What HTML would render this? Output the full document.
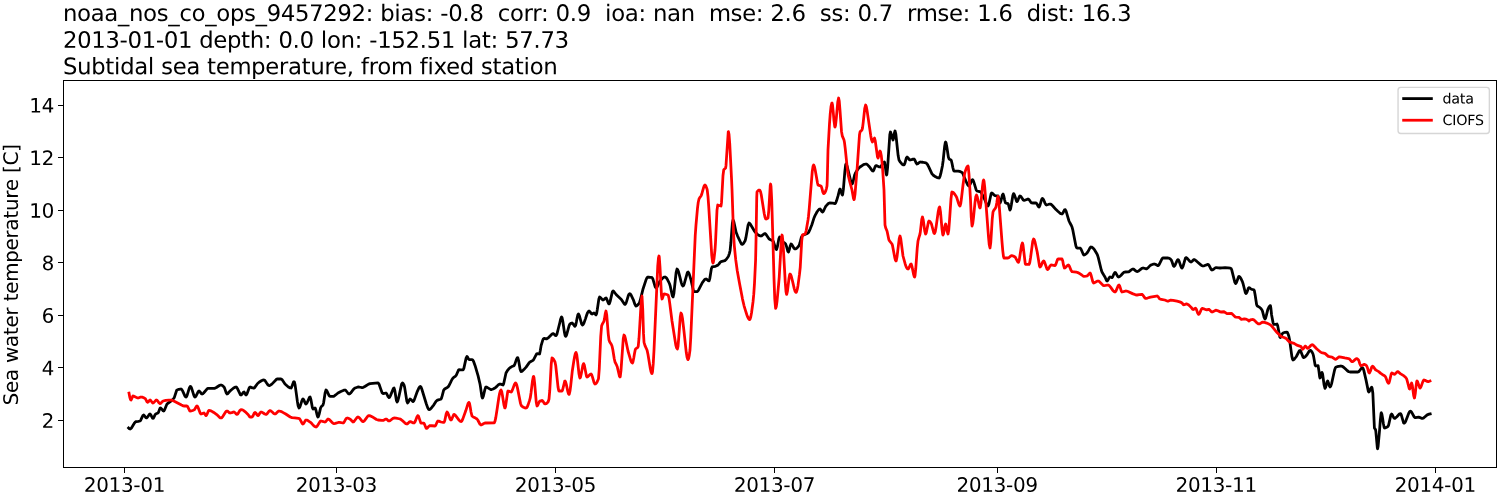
<!DOCTYPE html>
<html><head><meta charset="utf-8"><title>chart</title>
<style>html,body{margin:0;padding:0;background:#fff;width:1500px;height:500px;overflow:hidden}body{position:relative}svg{display:block;font-family:"Liberation Sans",sans-serif}</style>
</head><body>
<svg width="1500" height="500" viewBox="0 0 1080 360" version="1.1" style="position:absolute;left:0;top:0">
<defs>
<style type="text/css">*{stroke-linejoin: round; stroke-linecap: butt}</style>
</defs>
<g id="figure_1">
<g id="patch_1">
<path d="M 0 360
L 1080 360
L 1080 0
L 0 0
z
" style="fill: #ffffff"/>
</g>
<g id="axes_1">
<g id="patch_2">
<path d="M 45.9 336.456
L 1077.336 336.456
L 1077.336 57.888
L 45.9 57.888
z
" style="fill: #ffffff"/>
</g>
<g id="matplotlib.axis_1">
<g id="xtick_1">
<g id="line2d_1">
<defs>
<path id="mf0cb0c5681" d="M 0 0
L 0 3.5
" style="stroke: #000000; stroke-opacity: 0; stroke-width: 0.8"/>
</defs>
<g>
</g>
</g>
<g id="text_1">
<!-- 2013-01 -->
<g transform="translate(60.392 354.094) scale(0.14 -0.14)">
<defs>
<path id="DejaVuSans-32" d="M 1228 531
L 3431 531
L 3431 0
L 469 0
L 469 531
Q 828 903 1448 1529
Q 2069 2156 2228 2338
Q 2531 2678 2651 2914
Q 2772 3150 2772 3378
Q 2772 3750 2511 3984
Q 2250 4219 1831 4219
Q 1534 4219 1204 4116
Q 875 4013 500 3803
L 500 4441
Q 881 4594 1212 4672
Q 1544 4750 1819 4750
Q 2544 4750 2975 4387
Q 3406 4025 3406 3419
Q 3406 3131 3298 2873
Q 3191 2616 2906 2266
Q 2828 2175 2409 1742
Q 1991 1309 1228 531
z
" transform="scale(0.016)"/>
<path id="DejaVuSans-30" d="M 2034 4250
Q 1547 4250 1301 3770
Q 1056 3291 1056 2328
Q 1056 1369 1301 889
Q 1547 409 2034 409
Q 2525 409 2770 889
Q 3016 1369 3016 2328
Q 3016 3291 2770 3770
Q 2525 4250 2034 4250
z
M 2034 4750
Q 2819 4750 3233 4129
Q 3647 3509 3647 2328
Q 3647 1150 3233 529
Q 2819 -91 2034 -91
Q 1250 -91 836 529
Q 422 1150 422 2328
Q 422 3509 836 4129
Q 1250 4750 2034 4750
z
" transform="scale(0.016)"/>
<path id="DejaVuSans-31" d="M 794 531
L 1825 531
L 1825 4091
L 703 3866
L 703 4441
L 1819 4666
L 2450 4666
L 2450 531
L 3481 531
L 3481 0
L 794 0
L 794 531
z
" transform="scale(0.016)"/>
<path id="DejaVuSans-33" d="M 2597 2516
Q 3050 2419 3304 2112
Q 3559 1806 3559 1356
Q 3559 666 3084 287
Q 2609 -91 1734 -91
Q 1441 -91 1130 -33
Q 819 25 488 141
L 488 750
Q 750 597 1062 519
Q 1375 441 1716 441
Q 2309 441 2620 675
Q 2931 909 2931 1356
Q 2931 1769 2642 2001
Q 2353 2234 1838 2234
L 1294 2234
L 1294 2753
L 1863 2753
Q 2328 2753 2575 2939
Q 2822 3125 2822 3475
Q 2822 3834 2567 4026
Q 2313 4219 1838 4219
Q 1578 4219 1281 4162
Q 984 4106 628 3988
L 628 4550
Q 988 4650 1302 4700
Q 1616 4750 1894 4750
Q 2613 4750 3031 4423
Q 3450 4097 3450 3541
Q 3450 3153 3228 2886
Q 3006 2619 2597 2516
z
" transform="scale(0.016)"/>
<path id="DejaVuSans-2d" d="M 313 2009
L 1997 2009
L 1997 1497
L 313 1497
L 313 2009
z
" transform="scale(0.016)"/>
</defs>
<use href="#DejaVuSans-32"/>
<use href="#DejaVuSans-30" transform="translate(63.623 0)"/>
<use href="#DejaVuSans-31" transform="translate(127.246 0)"/>
<use href="#DejaVuSans-33" transform="translate(190.869 0)"/>
<use href="#DejaVuSans-2d" transform="translate(254.492 0)"/>
<use href="#DejaVuSans-30" transform="translate(290.576 0)"/>
<use href="#DejaVuSans-31" transform="translate(354.199 0)"/>
</g>
</g>
</g>
<g id="xtick_2">
<g id="line2d_2">
<g>
</g>
</g>
<g id="text_2">
<!-- 2013-03 -->
<g transform="translate(212.948 354.094) scale(0.14 -0.14)">
<use href="#DejaVuSans-32"/>
<use href="#DejaVuSans-30" transform="translate(63.623 0)"/>
<use href="#DejaVuSans-31" transform="translate(127.246 0)"/>
<use href="#DejaVuSans-33" transform="translate(190.869 0)"/>
<use href="#DejaVuSans-2d" transform="translate(254.492 0)"/>
<use href="#DejaVuSans-30" transform="translate(290.576 0)"/>
<use href="#DejaVuSans-33" transform="translate(354.199 0)"/>
</g>
</g>
</g>
<g id="xtick_3">
<g id="line2d_3">
<g>
</g>
</g>
<g id="text_3">
<!-- 2013-05 -->
<g transform="translate(370.675 354.094) scale(0.14 -0.14)">
<defs>
<path id="DejaVuSans-35" d="M 691 4666
L 3169 4666
L 3169 4134
L 1269 4134
L 1269 2991
Q 1406 3038 1543 3061
Q 1681 3084 1819 3084
Q 2600 3084 3056 2656
Q 3513 2228 3513 1497
Q 3513 744 3044 326
Q 2575 -91 1722 -91
Q 1428 -91 1123 -41
Q 819 9 494 109
L 494 744
Q 775 591 1075 516
Q 1375 441 1709 441
Q 2250 441 2565 725
Q 2881 1009 2881 1497
Q 2881 1984 2565 2268
Q 2250 2553 1709 2553
Q 1456 2553 1204 2497
Q 953 2441 691 2322
L 691 4666
z
" transform="scale(0.016)"/>
</defs>
<use href="#DejaVuSans-32"/>
<use href="#DejaVuSans-30" transform="translate(63.623 0)"/>
<use href="#DejaVuSans-31" transform="translate(127.246 0)"/>
<use href="#DejaVuSans-33" transform="translate(190.869 0)"/>
<use href="#DejaVuSans-2d" transform="translate(254.492 0)"/>
<use href="#DejaVuSans-30" transform="translate(290.576 0)"/>
<use href="#DejaVuSans-35" transform="translate(354.199 0)"/>
</g>
</g>
</g>
<g id="xtick_4">
<g id="line2d_4">
<g>
</g>
</g>
<g id="text_4">
<!-- 2013-07 -->
<g transform="translate(528.402 354.094) scale(0.14 -0.14)">
<defs>
<path id="DejaVuSans-37" d="M 525 4666
L 3525 4666
L 3525 4397
L 1831 0
L 1172 0
L 2766 4134
L 525 4134
L 525 4666
z
" transform="scale(0.016)"/>
</defs>
<use href="#DejaVuSans-32"/>
<use href="#DejaVuSans-30" transform="translate(63.623 0)"/>
<use href="#DejaVuSans-31" transform="translate(127.246 0)"/>
<use href="#DejaVuSans-33" transform="translate(190.869 0)"/>
<use href="#DejaVuSans-2d" transform="translate(254.492 0)"/>
<use href="#DejaVuSans-30" transform="translate(290.576 0)"/>
<use href="#DejaVuSans-37" transform="translate(354.199 0)"/>
</g>
</g>
</g>
<g id="xtick_5">
<g id="line2d_5">
<g>
</g>
</g>
<g id="text_5">
<!-- 2013-09 -->
<g transform="translate(688.714 354.094) scale(0.14 -0.14)">
<defs>
<path id="DejaVuSans-39" d="M 703 97
L 703 672
Q 941 559 1184 500
Q 1428 441 1663 441
Q 2288 441 2617 861
Q 2947 1281 2994 2138
Q 2813 1869 2534 1725
Q 2256 1581 1919 1581
Q 1219 1581 811 2004
Q 403 2428 403 3163
Q 403 3881 828 4315
Q 1253 4750 1959 4750
Q 2769 4750 3195 4129
Q 3622 3509 3622 2328
Q 3622 1225 3098 567
Q 2575 -91 1691 -91
Q 1453 -91 1209 -44
Q 966 3 703 97
z
M 1959 2075
Q 2384 2075 2632 2365
Q 2881 2656 2881 3163
Q 2881 3666 2632 3958
Q 2384 4250 1959 4250
Q 1534 4250 1286 3958
Q 1038 3666 1038 3163
Q 1038 2656 1286 2365
Q 1534 2075 1959 2075
z
" transform="scale(0.016)"/>
</defs>
<use href="#DejaVuSans-32"/>
<use href="#DejaVuSans-30" transform="translate(63.623 0)"/>
<use href="#DejaVuSans-31" transform="translate(127.246 0)"/>
<use href="#DejaVuSans-33" transform="translate(190.869 0)"/>
<use href="#DejaVuSans-2d" transform="translate(254.492 0)"/>
<use href="#DejaVuSans-30" transform="translate(290.576 0)"/>
<use href="#DejaVuSans-39" transform="translate(354.199 0)"/>
</g>
</g>
</g>
<g id="xtick_6">
<g id="line2d_6">
<g>
</g>
</g>
<g id="text_6">
<!-- 2013-11 -->
<g transform="translate(846.441 354.094) scale(0.14 -0.14)">
<use href="#DejaVuSans-32"/>
<use href="#DejaVuSans-30" transform="translate(63.623 0)"/>
<use href="#DejaVuSans-31" transform="translate(127.246 0)"/>
<use href="#DejaVuSans-33" transform="translate(190.869 0)"/>
<use href="#DejaVuSans-2d" transform="translate(254.492 0)"/>
<use href="#DejaVuSans-31" transform="translate(290.576 0)"/>
<use href="#DejaVuSans-31" transform="translate(354.199 0)"/>
</g>
</g>
</g>
<g id="xtick_7">
<g id="line2d_7">
<g>
</g>
</g>
<g id="text_7">
<!-- 2014-01 -->
<g transform="translate(1004.168 354.094) scale(0.14 -0.14)">
<defs>
<path id="DejaVuSans-34" d="M 2419 4116
L 825 1625
L 2419 1625
L 2419 4116
z
M 2253 4666
L 3047 4666
L 3047 1625
L 3713 1625
L 3713 1100
L 3047 1100
L 3047 0
L 2419 0
L 2419 1100
L 313 1100
L 313 1709
L 2253 4666
z
" transform="scale(0.016)"/>
</defs>
<use href="#DejaVuSans-32"/>
<use href="#DejaVuSans-30" transform="translate(63.623 0)"/>
<use href="#DejaVuSans-31" transform="translate(127.246 0)"/>
<use href="#DejaVuSans-34" transform="translate(190.869 0)"/>
<use href="#DejaVuSans-2d" transform="translate(254.492 0)"/>
<use href="#DejaVuSans-30" transform="translate(290.576 0)"/>
<use href="#DejaVuSans-31" transform="translate(354.199 0)"/>
</g>
</g>
</g>
</g>
<g id="matplotlib.axis_2">
<g id="ytick_1">
<g id="line2d_8">
<defs>
<path id="m7ebbb2c059" d="M 0 0
L -3.5 0
" style="stroke: #000000; stroke-opacity: 0; stroke-width: 0.8"/>
</defs>
<g>
</g>
</g>
<g id="text_8">
<!-- 2 -->
<g transform="translate(29.992 308.007) scale(0.14 -0.14)">
<use href="#DejaVuSans-32"/>
</g>
</g>
</g>
<g id="ytick_2">
<g id="line2d_9">
<g>
</g>
</g>
<g id="text_9">
<!-- 4 -->
<g transform="translate(29.992 270.183) scale(0.14 -0.14)">
<use href="#DejaVuSans-34"/>
</g>
</g>
</g>
<g id="ytick_3">
<g id="line2d_10">
<g>
</g>
</g>
<g id="text_10">
<!-- 6 -->
<g transform="translate(29.992 232.359) scale(0.14 -0.14)">
<defs>
<path id="DejaVuSans-36" d="M 2113 2584
Q 1688 2584 1439 2293
Q 1191 2003 1191 1497
Q 1191 994 1439 701
Q 1688 409 2113 409
Q 2538 409 2786 701
Q 3034 994 3034 1497
Q 3034 2003 2786 2293
Q 2538 2584 2113 2584
z
M 3366 4563
L 3366 3988
Q 3128 4100 2886 4159
Q 2644 4219 2406 4219
Q 1781 4219 1451 3797
Q 1122 3375 1075 2522
Q 1259 2794 1537 2939
Q 1816 3084 2150 3084
Q 2853 3084 3261 2657
Q 3669 2231 3669 1497
Q 3669 778 3244 343
Q 2819 -91 2113 -91
Q 1303 -91 875 529
Q 447 1150 447 2328
Q 447 3434 972 4092
Q 1497 4750 2381 4750
Q 2619 4750 2861 4703
Q 3103 4656 3366 4563
z
" transform="scale(0.016)"/>
</defs>
<use href="#DejaVuSans-36"/>
</g>
</g>
</g>
<g id="ytick_4">
<g id="line2d_11">
<g>
</g>
</g>
<g id="text_11">
<!-- 8 -->
<g transform="translate(29.992 194.535) scale(0.14 -0.14)">
<defs>
<path id="DejaVuSans-38" d="M 2034 2216
Q 1584 2216 1326 1975
Q 1069 1734 1069 1313
Q 1069 891 1326 650
Q 1584 409 2034 409
Q 2484 409 2743 651
Q 3003 894 3003 1313
Q 3003 1734 2745 1975
Q 2488 2216 2034 2216
z
M 1403 2484
Q 997 2584 770 2862
Q 544 3141 544 3541
Q 544 4100 942 4425
Q 1341 4750 2034 4750
Q 2731 4750 3128 4425
Q 3525 4100 3525 3541
Q 3525 3141 3298 2862
Q 3072 2584 2669 2484
Q 3125 2378 3379 2068
Q 3634 1759 3634 1313
Q 3634 634 3220 271
Q 2806 -91 2034 -91
Q 1263 -91 848 271
Q 434 634 434 1313
Q 434 1759 690 2068
Q 947 2378 1403 2484
z
M 1172 3481
Q 1172 3119 1398 2916
Q 1625 2713 2034 2713
Q 2441 2713 2670 2916
Q 2900 3119 2900 3481
Q 2900 3844 2670 4047
Q 2441 4250 2034 4250
Q 1625 4250 1398 4047
Q 1172 3844 1172 3481
z
" transform="scale(0.016)"/>
</defs>
<use href="#DejaVuSans-38"/>
</g>
</g>
</g>
<g id="ytick_5">
<g id="line2d_12">
<g>
</g>
</g>
<g id="text_12">
<!-- 10 -->
<g transform="translate(21.085 156.711) scale(0.14 -0.14)">
<use href="#DejaVuSans-31"/>
<use href="#DejaVuSans-30" transform="translate(63.623 0)"/>
</g>
</g>
</g>
<g id="ytick_6">
<g id="line2d_13">
<g>
</g>
</g>
<g id="text_13">
<!-- 12 -->
<g transform="translate(21.085 118.887) scale(0.14 -0.14)">
<use href="#DejaVuSans-31"/>
<use href="#DejaVuSans-32" transform="translate(63.623 0)"/>
</g>
</g>
</g>
<g id="ytick_7">
<g id="line2d_14">
<g>
</g>
</g>
<g id="text_14">
<!-- 14 -->
<g transform="translate(21.085 81.063) scale(0.14 -0.14)">
<use href="#DejaVuSans-31"/>
<use href="#DejaVuSans-34" transform="translate(63.623 0)"/>
</g>
</g>
</g>
<g id="text_15">
<!-- Sea water temperature [C] -->
<g transform="translate(12.873 291.877) rotate(-90) scale(0.14 -0.14)">
<defs>
<path id="DejaVuSans-53" d="M 3425 4513
L 3425 3897
Q 3066 4069 2747 4153
Q 2428 4238 2131 4238
Q 1616 4238 1336 4038
Q 1056 3838 1056 3469
Q 1056 3159 1242 3001
Q 1428 2844 1947 2747
L 2328 2669
Q 3034 2534 3370 2195
Q 3706 1856 3706 1288
Q 3706 609 3251 259
Q 2797 -91 1919 -91
Q 1588 -91 1214 -16
Q 841 59 441 206
L 441 856
Q 825 641 1194 531
Q 1563 422 1919 422
Q 2459 422 2753 634
Q 3047 847 3047 1241
Q 3047 1584 2836 1778
Q 2625 1972 2144 2069
L 1759 2144
Q 1053 2284 737 2584
Q 422 2884 422 3419
Q 422 4038 858 4394
Q 1294 4750 2059 4750
Q 2388 4750 2728 4690
Q 3069 4631 3425 4513
z
" transform="scale(0.016)"/>
<path id="DejaVuSans-65" d="M 3597 1894
L 3597 1613
L 953 1613
Q 991 1019 1311 708
Q 1631 397 2203 397
Q 2534 397 2845 478
Q 3156 559 3463 722
L 3463 178
Q 3153 47 2828 -22
Q 2503 -91 2169 -91
Q 1331 -91 842 396
Q 353 884 353 1716
Q 353 2575 817 3079
Q 1281 3584 2069 3584
Q 2775 3584 3186 3129
Q 3597 2675 3597 1894
z
M 3022 2063
Q 3016 2534 2758 2815
Q 2500 3097 2075 3097
Q 1594 3097 1305 2825
Q 1016 2553 972 2059
L 3022 2063
z
" transform="scale(0.016)"/>
<path id="DejaVuSans-61" d="M 2194 1759
Q 1497 1759 1228 1600
Q 959 1441 959 1056
Q 959 750 1161 570
Q 1363 391 1709 391
Q 2188 391 2477 730
Q 2766 1069 2766 1631
L 2766 1759
L 2194 1759
z
M 3341 1997
L 3341 0
L 2766 0
L 2766 531
Q 2569 213 2275 61
Q 1981 -91 1556 -91
Q 1019 -91 701 211
Q 384 513 384 1019
Q 384 1609 779 1909
Q 1175 2209 1959 2209
L 2766 2209
L 2766 2266
Q 2766 2663 2505 2880
Q 2244 3097 1772 3097
Q 1472 3097 1187 3025
Q 903 2953 641 2809
L 641 3341
Q 956 3463 1253 3523
Q 1550 3584 1831 3584
Q 2591 3584 2966 3190
Q 3341 2797 3341 1997
z
" transform="scale(0.016)"/>
<path id="DejaVuSans-20" transform="scale(0.016)"/>
<path id="DejaVuSans-77" d="M 269 3500
L 844 3500
L 1563 769
L 2278 3500
L 2956 3500
L 3675 769
L 4391 3500
L 4966 3500
L 4050 0
L 3372 0
L 2619 2869
L 1863 0
L 1184 0
L 269 3500
z
" transform="scale(0.016)"/>
<path id="DejaVuSans-74" d="M 1172 4494
L 1172 3500
L 2356 3500
L 2356 3053
L 1172 3053
L 1172 1153
Q 1172 725 1289 603
Q 1406 481 1766 481
L 2356 481
L 2356 0
L 1766 0
Q 1100 0 847 248
Q 594 497 594 1153
L 594 3053
L 172 3053
L 172 3500
L 594 3500
L 594 4494
L 1172 4494
z
" transform="scale(0.016)"/>
<path id="DejaVuSans-72" d="M 2631 2963
Q 2534 3019 2420 3045
Q 2306 3072 2169 3072
Q 1681 3072 1420 2755
Q 1159 2438 1159 1844
L 1159 0
L 581 0
L 581 3500
L 1159 3500
L 1159 2956
Q 1341 3275 1631 3429
Q 1922 3584 2338 3584
Q 2397 3584 2469 3576
Q 2541 3569 2628 3553
L 2631 2963
z
" transform="scale(0.016)"/>
<path id="DejaVuSans-6d" d="M 3328 2828
Q 3544 3216 3844 3400
Q 4144 3584 4550 3584
Q 5097 3584 5394 3201
Q 5691 2819 5691 2113
L 5691 0
L 5113 0
L 5113 2094
Q 5113 2597 4934 2840
Q 4756 3084 4391 3084
Q 3944 3084 3684 2787
Q 3425 2491 3425 1978
L 3425 0
L 2847 0
L 2847 2094
Q 2847 2600 2669 2842
Q 2491 3084 2119 3084
Q 1678 3084 1418 2786
Q 1159 2488 1159 1978
L 1159 0
L 581 0
L 581 3500
L 1159 3500
L 1159 2956
Q 1356 3278 1631 3431
Q 1906 3584 2284 3584
Q 2666 3584 2933 3390
Q 3200 3197 3328 2828
z
" transform="scale(0.016)"/>
<path id="DejaVuSans-70" d="M 1159 525
L 1159 -1331
L 581 -1331
L 581 3500
L 1159 3500
L 1159 2969
Q 1341 3281 1617 3432
Q 1894 3584 2278 3584
Q 2916 3584 3314 3078
Q 3713 2572 3713 1747
Q 3713 922 3314 415
Q 2916 -91 2278 -91
Q 1894 -91 1617 61
Q 1341 213 1159 525
z
M 3116 1747
Q 3116 2381 2855 2742
Q 2594 3103 2138 3103
Q 1681 3103 1420 2742
Q 1159 2381 1159 1747
Q 1159 1113 1420 752
Q 1681 391 2138 391
Q 2594 391 2855 752
Q 3116 1113 3116 1747
z
" transform="scale(0.016)"/>
<path id="DejaVuSans-75" d="M 544 1381
L 544 3500
L 1119 3500
L 1119 1403
Q 1119 906 1312 657
Q 1506 409 1894 409
Q 2359 409 2629 706
Q 2900 1003 2900 1516
L 2900 3500
L 3475 3500
L 3475 0
L 2900 0
L 2900 538
Q 2691 219 2414 64
Q 2138 -91 1772 -91
Q 1169 -91 856 284
Q 544 659 544 1381
z
M 1991 3584
L 1991 3584
z
" transform="scale(0.016)"/>
<path id="DejaVuSans-5b" d="M 550 4863
L 1875 4863
L 1875 4416
L 1125 4416
L 1125 -397
L 1875 -397
L 1875 -844
L 550 -844
L 550 4863
z
" transform="scale(0.016)"/>
<path id="DejaVuSans-43" d="M 4122 4306
L 4122 3641
Q 3803 3938 3442 4084
Q 3081 4231 2675 4231
Q 1875 4231 1450 3742
Q 1025 3253 1025 2328
Q 1025 1406 1450 917
Q 1875 428 2675 428
Q 3081 428 3442 575
Q 3803 722 4122 1019
L 4122 359
Q 3791 134 3420 21
Q 3050 -91 2638 -91
Q 1578 -91 968 557
Q 359 1206 359 2328
Q 359 3453 968 4101
Q 1578 4750 2638 4750
Q 3056 4750 3426 4639
Q 3797 4528 4122 4306
z
" transform="scale(0.016)"/>
<path id="DejaVuSans-5d" d="M 1947 4863
L 1947 -844
L 622 -844
L 622 -397
L 1369 -397
L 1369 4416
L 622 4416
L 622 4863
L 1947 4863
z
" transform="scale(0.016)"/>
</defs>
<use href="#DejaVuSans-53"/>
<use href="#DejaVuSans-65" transform="translate(63.477 0)"/>
<use href="#DejaVuSans-61" transform="translate(125 0)"/>
<use href="#DejaVuSans-20" transform="translate(186.279 0)"/>
<use href="#DejaVuSans-77" transform="translate(218.066 0)"/>
<use href="#DejaVuSans-61" transform="translate(299.854 0)"/>
<use href="#DejaVuSans-74" transform="translate(361.133 0)"/>
<use href="#DejaVuSans-65" transform="translate(400.342 0)"/>
<use href="#DejaVuSans-72" transform="translate(461.865 0)"/>
<use href="#DejaVuSans-20" transform="translate(502.979 0)"/>
<use href="#DejaVuSans-74" transform="translate(534.766 0)"/>
<use href="#DejaVuSans-65" transform="translate(573.975 0)"/>
<use href="#DejaVuSans-6d" transform="translate(635.498 0)"/>
<use href="#DejaVuSans-70" transform="translate(732.91 0)"/>
<use href="#DejaVuSans-65" transform="translate(796.387 0)"/>
<use href="#DejaVuSans-72" transform="translate(857.91 0)"/>
<use href="#DejaVuSans-61" transform="translate(899.023 0)"/>
<use href="#DejaVuSans-74" transform="translate(960.303 0)"/>
<use href="#DejaVuSans-75" transform="translate(999.512 0)"/>
<use href="#DejaVuSans-72" transform="translate(1062.891 0)"/>
<use href="#DejaVuSans-65" transform="translate(1101.754 0)"/>
<use href="#DejaVuSans-20" transform="translate(1163.277 0)"/>
<use href="#DejaVuSans-5b" transform="translate(1195.064 0)"/>
<use href="#DejaVuSans-43" transform="translate(1234.078 0)"/>
<use href="#DejaVuSans-5d" transform="translate(1303.902 0)"/>
</g>
</g>
</g>
<g id="line2d_15">
<path d="M 92.592 308.16
L 93.132 308.685
L 93.672 308.876
L 94.212 308.608
L 94.752 308.003
L 95.832 306.225
L 96.912 304.437
L 97.452 303.821
L 97.992 303.534
L 99.612 303.321
L 100.8 303.12
L 101.232 302.716
L 102.312 300.352
L 102.852 299.259
L 103.392 298.8
L 103.932 299.182
L 105.012 300.743
L 105.552 300.934
L 106.092 300.464
L 107.712 298.179
L 108 298.08
L 108.252 298.199
L 108.792 299.045
L 109.332 300.208
L 109.872 301.094
L 110.16 301.248
L 110.412 301.111
L 110.952 300.155
L 111.492 298.9
L 112.032 298.08
L 113.76 297.36
L 114.192 296.629
L 114.732 295.095
L 115.272 293.898
L 115.488 293.76
L 115.812 293.876
L 116.352 294.443
L 117.432 295.778
L 117.792 295.92
L 117.972 295.854
L 118.512 295.017
L 120.132 291.007
L 120.672 290.509
L 123.372 288.662
L 124.452 287.628
L 125.28 286.56
L 125.532 286.063
L 127.152 281.133
L 127.44 280.8
L 128.772 280.297
L 129.852 280.101
L 130.392 280.087
L 130.932 280.523
L 131.472 281.472
L 133.092 285.066
L 133.632 285.735
L 133.92 285.84
L 134.172 285.703
L 134.712 284.647
L 136.332 279.304
L 136.872 278.31
L 137.088 278.208
L 137.412 278.413
L 137.952 279.495
L 139.572 284.647
L 140.112 285.677
L 140.4 285.84
L 140.652 285.747
L 141.192 285.04
L 142.812 281.825
L 143.352 281.527
L 143.892 281.942
L 144.972 283.42
L 145.512 283.677
L 146.052 283.46
L 146.592 282.973
L 149.292 279.78
L 149.832 279.648
L 154.692 279.548
L 155.772 279.006
L 157.932 277.544
L 158.472 277.311
L 159.12 277.2
L 159.552 277.278
L 160.092 277.563
L 161.28 278.64
L 161.712 279.451
L 162.792 282.732
L 163.44 283.68
L 163.872 283.512
L 164.952 282.246
L 166.032 281.153
L 168.192 279.314
L 169.272 278.747
L 169.92 278.64
L 170.352 278.869
L 170.892 279.673
L 173.052 284.133
L 173.592 284.393
L 174.132 283.978
L 175.212 282.5
L 175.752 282.256
L 176.292 283.079
L 176.832 284.175
L 177.12 284.4
L 177.372 284.275
L 177.912 283.333
L 179.532 279.047
L 180.072 278.642
L 180.612 278.781
L 181.692 279.273
L 182.232 279.36
L 182.88 279.36
L 183.312 279.119
L 185.472 276.115
L 187.092 274.827
L 188.172 274.146
L 189.252 273.712
L 190.08 273.6
L 190.332 273.657
L 190.872 274.1
L 191.952 275.737
L 193.032 277.287
L 193.68 277.632
L 194.112 277.574
L 194.652 277.355
L 195.732 276.554
L 198.432 273.821
L 198.972 273.146
L 199.512 272.88
L 202.32 272.88
L 202.752 273.05
L 203.292 273.64
L 205.2 276.48
L 207.612 278.588
L 208.692 279.197
L 209.52 279.36
L 209.772 279.186
L 210.312 277.956
L 210.852 276.264
L 211.392 274.976
L 211.68 274.752
L 211.932 275.018
L 212.472 277.107
L 213.552 284.826
L 214.092 288.916
L 214.632 292.134
L 215.28 293.76
L 215.712 293.366
L 216.252 292.044
L 217.332 288.579
L 217.872 287.461
L 218.16 287.28
L 218.412 287.416
L 218.952 288.377
L 219.492 289.699
L 220.032 290.705
L 220.32 290.88
L 220.572 290.771
L 221.112 289.946
L 222.732 286.196
L 223.272 285.868
L 223.812 287.528
L 224.892 293.439
L 225.432 294.475
L 226.8 293.76
L 227.052 294.004
L 227.592 295.735
L 228.132 298.113
L 228.672 299.925
L 228.96 300.24
L 229.212 300.007
L 229.752 298.319
L 230.832 293.711
L 231.372 292.726
L 232.452 291.759
L 232.56 291.6
L 232.992 290.036
L 234.072 282.916
L 234.72 280.8
L 235.152 281.08
L 235.692 282.02
L 236.772 284.484
L 237.312 285.279
L 237.852 285.408
L 240.012 285.383
L 240.552 285.183
L 241.632 284.378
L 243.36 282.96
L 245.412 281.878
L 247.572 280.959
L 248.4 280.8
L 248.652 280.862
L 249.192 281.334
L 250.812 283.477
L 251.352 283.677
L 251.892 283.473
L 252.432 283.009
L 253.512 281.626
L 254.592 280.184
L 255.132 279.644
L 255.672 279.332
L 257.292 278.796
L 258.48 278.64
L 259.452 278.824
L 260.64 279.072
L 261.612 278.871
L 262.692 278.297
L 265.392 276.515
L 266.472 276.183
L 270.252 275.816
L 272.16 275.76
L 272.412 275.867
L 272.952 276.706
L 274.032 279.805
L 275.112 282.739
L 275.76 283.392
L 276.732 283.208
L 277.92 282.96
L 278.352 283.304
L 279.432 285.557
L 280.08 286.272
L 280.512 285.997
L 281.052 285.032
L 283.212 279.68
L 283.752 279.393
L 284.292 281.329
L 285.372 288.225
L 285.912 289.426
L 286.452 288.53
L 286.992 286.549
L 289.152 276.572
L 289.728 275.76
L 290.232 276.115
L 290.88 277.2
L 291.312 278.717
L 292.932 288.872
L 293.472 290.16
L 294.012 289.492
L 294.552 288.191
L 295.2 287.28
L 295.632 287.475
L 297.252 289.138
L 297.36 289.152
L 297.792 288.839
L 298.332 287.744
L 300.492 281.726
L 301.572 279.42
L 302.112 278.571
L 302.688 278.208
L 303.192 278.771
L 303.732 280.254
L 306.972 290.86
L 308.052 293.871
L 308.592 294.769
L 308.88 294.912
L 309.132 294.878
L 309.672 294.605
L 310.752 293.517
L 312.372 291.493
L 313.992 288.903
L 314.64 288.288
L 315.612 287.924
L 317.232 287.446
L 317.52 287.28
L 317.772 286.925
L 318.312 285.214
L 319.392 281.06
L 319.932 280.257
L 321.012 279.564
L 322.092 279.01
L 322.632 278.569
L 323.172 277.839
L 324.252 275.697
L 325.332 273.42
L 326.16 272.16
L 326.952 271.503
L 328.032 270.727
L 328.572 270.045
L 330.192 266.284
L 330.48 266.112
L 331.812 266.24
L 333.432 266.382
L 333.972 265.261
L 335.592 257.872
L 336.24 256.608
L 336.672 257.106
L 337.212 258.34
L 337.752 258.912
L 339.912 258.918
L 340.452 259.329
L 340.992 260.287
L 342.072 263.31
L 344.232 270.586
L 345.6 276.48
L 345.852 277.939
L 346.932 285.549
L 347.328 286.56
L 347.472 286.489
L 348.012 285.197
L 349.092 280.548
L 349.632 278.912
L 349.92 278.64
L 350.172 278.666
L 350.712 278.872
L 353.412 280.507
L 353.952 280.471
L 355.032 280.091
L 356.652 279.205
L 357.732 278.19
L 358.812 277.076
L 359.352 276.676
L 360 276.48
L 360.432 276.555
L 362.16 277.2
L 362.592 276.435
L 364.32 268.56
L 365.292 266.908
L 366.372 265.542
L 367.452 264.567
L 368.532 263.933
L 369.612 263.519
L 370.152 263.167
L 370.692 262.15
L 371.772 258.919
L 372.312 257.742
L 372.672 257.472
L 372.852 257.627
L 373.392 259.575
L 374.472 265.807
L 375.12 267.552
L 375.552 267.466
L 376.092 267.154
L 377.172 266.12
L 378.792 264.306
L 380.952 261.258
L 381.6 260.64
L 382.572 260.127
L 383.76 259.488
L 384.192 258.943
L 386.352 254.709
L 386.892 254.606
L 388.512 254.88
L 389.052 252.187
L 389.592 248.854
L 390.672 245.187
L 391.212 244.015
L 391.752 243.651
L 393.372 244.044
L 394.56 243.36
L 394.992 243.029
L 397.692 240.306
L 398.232 240.197
L 398.772 240.473
L 399.852 241.458
L 400.392 241.617
L 400.932 240.695
L 402.012 236.509
L 403.092 232.172
L 403.632 229.811
L 404.172 228.356
L 404.352 228.24
L 404.712 228.84
L 405.252 231.48
L 406.332 238.968
L 406.872 241.608
L 407.232 242.208
L 407.412 242.132
L 407.952 241.133
L 409.032 237.182
L 409.572 235.144
L 410.112 233.674
L 410.652 233.088
L 411.192 232.741
L 411.84 232.56
L 412.272 232.815
L 413.892 234.99
L 414 235.008
L 414.432 234.272
L 414.972 231.903
L 415.512 228.998
L 416.052 226.705
L 416.448 226.08
L 416.592 226.137
L 417.132 227.208
L 418.752 233.176
L 419.328 234
L 419.832 233.684
L 420.372 232.754
L 421.452 229.759
L 422.532 226.432
L 423.072 225.088
L 423.612 224.194
L 424.152 223.927
L 424.692 224.342
L 425.772 225.82
L 426.312 226.075
L 427.68 225.36
L 427.932 225.477
L 429.012 226.777
L 429.12 226.8
L 429.552 225.84
L 430.092 222.699
L 431.172 215.293
L 431.712 213.84
L 432.252 214.109
L 433.872 215.917
L 434.16 216
L 434.412 215.946
L 434.952 215.561
L 436.032 214.63
L 436.32 214.56
L 436.572 214.723
L 437.112 215.876
L 437.652 217.462
L 438.192 218.67
L 438.48 218.88
L 438.732 218.678
L 439.272 217.146
L 440.892 210.181
L 441.432 209.526
L 441.972 209.876
L 443.592 212.038
L 447.372 215.601
L 449.532 218.965
L 450.072 219.157
L 450.612 218.47
L 451.152 217
L 452.232 213.333
L 452.772 211.945
L 453.312 211.392
L 453.852 211.7
L 454.392 212.489
L 456.012 215.843
L 457.092 219.037
L 457.632 220.138
L 457.92 220.32
L 458.172 220.288
L 458.712 220.028
L 459.792 218.951
L 460.332 218.156
L 460.872 216.575
L 463.032 207.868
L 465.192 201.294
L 465.732 200.173
L 466.272 199.535
L 466.812 199.444
L 468.432 199.629
L 469.512 199.905
L 470.052 200.85
L 471.672 206.425
L 472.32 207.36
L 472.752 207.115
L 473.292 206.267
L 474.912 202.721
L 475.452 202.037
L 477.072 200.313
L 478.152 199.58
L 478.8 199.44
L 479.232 199.566
L 479.772 200.039
L 480.312 200.797
L 481.392 202.888
L 482.112 204.48
L 482.472 205.61
L 484.092 213.106
L 484.632 213.803
L 485.172 211.496
L 486.792 196.283
L 487.44 193.68
L 487.872 194.023
L 488.412 195.26
L 489.492 199.341
L 490.572 203.652
L 491.112 205.176
L 491.76 205.92
L 492.192 205.519
L 492.732 204.112
L 494.892 196.307
L 495.432 195.851
L 495.972 196.573
L 496.512 198.103
L 497.592 201.84
L 499.212 209.196
L 499.752 209.952
L 501.912 209.946
L 502.452 209.584
L 502.992 208.77
L 505.692 203.435
L 507.312 201.404
L 507.852 201.004
L 508.392 200.885
L 508.932 201.161
L 510.012 202.146
L 510.552 202.288
L 511.092 200.399
L 512.172 193.565
L 512.712 192.213
L 513.792 191.986
L 514.872 191.787
L 515.952 191.373
L 517.032 190.748
L 517.572 190.156
L 518.652 188.692
L 519.192 188.328
L 521.892 187.625
L 522.972 186.664
L 524.16 185.04
L 524.592 184.178
L 525.132 182.586
L 525.672 180.345
L 526.212 174.95
L 527.292 160.733
L 527.76 158.4
L 527.832 158.421
L 528.372 159.721
L 529.992 167.25
L 531.072 169.968
L 533.772 175.661
L 534.312 175.964
L 534.852 175.709
L 535.392 175.127
L 536.472 173.376
L 537.012 171.345
L 538.632 162.034
L 539.28 160.56
L 539.712 160.747
L 540.252 161.408
L 542.952 166.002
L 544.032 167.474
L 545.112 168.532
L 546.732 169.593
L 547.812 169.917
L 547.92 169.92
L 548.352 169.815
L 549.432 168.991
L 549.972 168.538
L 550.8 168.192
L 551.052 168.261
L 551.592 168.797
L 553.752 172.131
L 554.832 172.654
L 555.912 173.086
L 556.56 173.52
L 556.992 174.28
L 558.612 179.324
L 559.008 179.712
L 559.152 179.61
L 559.692 177.788
L 560.772 171.901
L 561.312 170.64
L 561.852 171.176
L 563.04 173.52
L 564.012 174.334
L 565.092 175.092
L 565.632 175.68
L 566.172 177.081
L 567.252 180.943
L 567.648 181.44
L 567.792 181.343
L 568.332 179.695
L 568.872 177.273
L 569.52 175.68
L 569.952 175.899
L 570.492 176.633
L 571.572 178.558
L 572.112 179.179
L 572.652 179.255
L 573.192 179.045
L 573.732 178.651
L 574.812 177.458
L 575.352 176.719
L 575.892 175.165
L 576.972 170.913
L 577.512 169.854
L 578.592 169.151
L 581.292 168.107
L 581.832 167.694
L 582.372 166.936
L 583.452 164.562
L 584.532 161.788
L 586.152 156.74
L 586.8 155.232
L 588.312 152.491
L 589.392 151.017
L 589.932 150.603
L 590.472 150.491
L 591.012 151.101
L 591.552 152.08
L 592.128 152.64
L 592.632 152.301
L 593.172 151.381
L 594.252 149.041
L 594.792 148.239
L 596.412 146.534
L 596.952 146.226
L 597.492 146.16
L 599.652 146.244
L 601.2 146.592
L 601.272 146.581
L 601.812 145.892
L 602.352 144.435
L 603.432 140.89
L 604.512 136.467
L 604.8 136.08
L 605.052 136.329
L 606.132 139.823
L 606.528 140.4
L 606.672 140.201
L 607.212 136.557
L 608.292 123.458
L 608.832 118.845
L 609.12 118.08
L 609.372 118.265
L 609.912 119.661
L 612.612 130.77
L 613.152 132.241
L 613.44 132.48
L 613.692 132.262
L 614.232 130.661
L 615.312 126.071
L 615.852 124.777
L 616.932 122.874
L 618.012 121.387
L 619.2 120.24
L 621.252 118.818
L 622.332 118.303
L 623.52 118.08
L 623.952 118.181
L 624.492 118.541
L 626.112 120.24
L 627.192 121.757
L 627.732 122.536
L 628.272 123.039
L 628.56 123.12
L 628.812 122.974
L 629.352 121.935
L 629.892 120.508
L 630.432 119.421
L 630.72 119.232
L 630.972 119.254
L 632.052 119.679
L 633.132 120.169
L 633.672 120.235
L 634.212 119.889
L 635.292 118.256
L 635.832 117.397
L 636.372 116.795
L 636.768 116.64
L 636.912 116.858
L 637.452 120.369
L 637.992 124.769
L 638.352 126
L 638.532 125.616
L 639.072 120.696
L 640.692 96.798
L 641.088 95.04
L 641.232 95.137
L 641.772 96.785
L 642.312 99.207
L 642.96 100.8
L 643.392 99.4
L 643.932 95.928
L 644.4 94.32
L 644.472 94.355
L 645.012 96.563
L 646.092 106.731
L 646.632 111.801
L 647.28 115.2
L 648.252 116.782
L 649.332 118.062
L 649.872 118.479
L 650.412 118.729
L 650.952 118.781
L 651.492 117.675
L 652.572 113.734
L 653.112 113.047
L 653.652 113.462
L 654.732 114.94
L 655.272 115.199
L 656.352 114.947
L 657.432 114.573
L 658.08 114.48
L 658.512 114.854
L 659.592 117.302
L 660.24 118.08
L 660.672 117.93
L 662.292 116.65
L 662.832 116.649
L 664.452 116.821
L 666.612 117.328
L 666.72 117.36
L 667.152 117.621
L 667.692 118.273
L 668.772 120.327
L 670.932 124.969
L 671.76 126
L 673.632 127.324
L 674.712 127.873
L 675.792 128.146
L 676.08 128.16
L 676.332 128.016
L 676.872 126.867
L 677.412 124.861
L 678.528 119.52
L 679.032 115.919
L 680.112 105.503
L 680.652 102.477
L 680.832 102.24
L 681.192 102.918
L 681.732 105.809
L 682.812 113.049
L 683.352 114.538
L 684.72 115.2
L 684.972 115.663
L 685.512 117.88
L 686.052 120.685
L 686.592 122.763
L 686.88 123.12
L 689.832 123.173
L 690.912 123.406
L 691.992 123.81
L 692.64 124.128
L 693.072 124.634
L 694.152 127.303
L 695.232 129.798
L 696.312 132.257
L 696.852 133.242
L 697.392 133.83
L 697.68 133.92
L 697.932 133.784
L 698.472 132.785
L 699.552 129.957
L 700.128 129.312
L 700.632 129.802
L 701.172 131.166
L 702.792 136.554
L 703.44 137.52
L 704.412 137.724
L 705.6 137.952
L 706.032 138.241
L 706.572 138.932
L 707.652 140.947
L 709.272 144.367
L 710.352 147.105
L 710.892 148.026
L 711.432 148.299
L 711.972 147.001
L 713.592 139.452
L 713.952 138.96
L 714.132 138.986
L 714.672 139.317
L 715.752 140.43
L 716.4 140.832
L 718.56 141.12
L 718.992 142.267
L 719.532 144.937
L 720.072 146.139
L 720.612 144.894
L 721.692 140.461
L 722.232 139.707
L 722.772 141.243
L 723.312 143.896
L 723.852 145.924
L 724.032 146.16
L 724.932 146.378
L 725.76 146.592
L 726.012 147.048
L 727.092 151.13
L 727.2 151.2
L 727.632 150.325
L 728.172 147.464
L 729.252 140.716
L 729.792 139.392
L 730.332 140.109
L 731.952 144.932
L 732.24 145.152
L 732.492 145
L 733.032 143.923
L 733.572 142.443
L 734.112 141.316
L 734.4 141.12
L 734.652 141.189
L 735.192 141.707
L 736.812 144.064
L 737.352 144.286
L 737.892 144.171
L 740.16 143.28
L 740.592 143.455
L 741.132 144.043
L 742.212 145.583
L 742.752 146.079
L 743.292 146.16
L 745.992 146.169
L 746.532 146.723
L 747.612 148.693
L 748.152 149.024
L 748.692 148.072
L 749.772 144.255
L 750.312 142.984
L 750.528 142.848
L 750.852 143.015
L 751.392 143.874
L 752.472 146.42
L 753.012 147.355
L 753.552 147.594
L 754.632 147.27
L 755.712 146.905
L 756.252 146.908
L 756.792 147.139
L 757.872 148.118
L 760.32 150.912
L 761.652 152.153
L 763.272 153.571
L 763.812 153.881
L 764.64 154.08
L 764.892 153.961
L 765.432 153.115
L 765.972 151.952
L 766.512 151.066
L 766.8 150.912
L 767.052 151.043
L 767.592 152.065
L 768.672 155.815
L 769.68 159.12
L 770.292 160.37
L 771.372 162.349
L 771.912 163.64
L 772.452 165.712
L 774.612 176.914
L 775.152 178.341
L 775.44 178.56
L 777.852 178.669
L 778.392 179.494
L 780.012 183.244
L 780.552 183.597
L 781.092 183.431
L 782.172 182.594
L 782.712 182.09
L 783.252 181.314
L 784.872 178.295
L 785.52 177.84
L 785.952 177.912
L 786.492 178.187
L 787.032 178.644
L 788.112 179.992
L 789.732 182.687
L 789.84 182.88
L 790.272 183.893
L 790.812 185.708
L 792.972 194.551
L 793.512 195.996
L 794.592 197.85
L 795.672 199.58
L 796.752 202.105
L 797.04 202.32
L 797.292 202.212
L 797.832 201.442
L 798.372 200.385
L 798.912 199.58
L 799.2 199.44
L 799.452 199.475
L 800.64 199.872
L 801.072 199.483
L 802.152 196.937
L 802.8 196.128
L 803.232 196.401
L 804.852 199.208
L 805.392 199.43
L 805.932 199.238
L 807.012 198.32
L 808.632 196.563
L 809.172 196.13
L 810 195.84
L 812.412 195.81
L 812.952 195.572
L 814.032 194.695
L 815.112 193.865
L 815.76 193.68
L 816.192 193.794
L 817.272 194.686
L 817.812 195.177
L 818.64 195.552
L 818.892 195.527
L 819.432 195.323
L 820.512 194.514
L 822.132 193.209
L 822.96 192.96
L 823.212 192.987
L 825.372 193.646
L 825.912 193.38
L 826.992 192.349
L 828.072 191.228
L 828.72 190.8
L 830.232 190.223
L 831.312 190.09
L 831.852 190.278
L 833.472 191.192
L 834.012 191.155
L 834.552 190.554
L 835.632 188.332
L 836.712 186.228
L 837.36 185.76
L 841.032 185.762
L 841.572 185.878
L 842.652 186.525
L 843.192 186.986
L 843.732 188.14
L 844.812 191.287
L 845.352 191.799
L 845.892 191.239
L 847.512 187.544
L 848.16 186.912
L 848.592 187.279
L 849.132 188.514
L 850.212 191.748
L 850.752 192.791
L 851.04 192.96
L 851.292 192.798
L 851.832 191.573
L 853.452 186.001
L 853.992 185.476
L 854.532 185.716
L 855.612 186.914
L 856.692 188.214
L 857.232 188.582
L 857.52 188.64
L 857.772 188.575
L 858.312 188.113
L 859.392 186.996
L 859.932 186.941
L 860.472 187.173
L 861.552 188.058
L 864.792 190.91
L 865.332 191.276
L 866.16 191.52
L 866.952 191.377
L 869.76 190.368
L 870.192 190.613
L 870.732 191.436
L 871.812 193.592
L 872.352 194.287
L 872.64 194.4
L 872.892 194.363
L 873.432 194.08
L 875.052 192.794
L 875.592 192.673
L 877.212 192.853
L 878.4 192.96
L 879.912 192.85
L 882.072 192.672
L 884.232 192.806
L 885.852 193.116
L 886.392 193.291
L 886.932 194.661
L 889.092 203.31
L 889.632 204.192
L 890.172 203.547
L 891.792 199.206
L 892.08 199.008
L 892.332 199.07
L 892.872 199.568
L 893.412 200.437
L 894.528 202.752
L 895.032 204.288
L 896.652 210.793
L 897.192 211.378
L 897.732 210.548
L 898.812 207.593
L 899.352 207.078
L 899.892 207.394
L 900.72 208.08
L 901.512 208.331
L 902.592 208.645
L 902.88 208.8
L 903.132 209.315
L 903.672 212.205
L 904.752 219.251
L 905.04 220.032
L 905.292 220.296
L 906.372 220.956
L 907.2 221.472
L 907.992 222.279
L 908.64 223.2
L 909.072 224.335
L 910.152 228.507
L 910.8 229.68
L 911.232 229.067
L 911.772 227.089
L 912.852 222.723
L 913.392 221.621
L 913.932 220.663
L 914.472 220.091
L 914.688 220.032
L 915.012 221.749
L 915.552 226.8
L 916.632 232.464
L 917.208 233.64
L 918.252 233.477
L 919.44 233.28
L 919.872 234.177
L 921.492 242.677
L 921.744 243
L 922.032 242.823
L 922.572 241.822
L 923.112 240.564
L 923.688 239.76
L 925.272 239.254
L 926.568 239.112
L 926.892 239.349
L 927.432 240.499
L 927.972 242.045
L 928.512 244.806
L 930.132 256.565
L 930.672 258.841
L 930.96 259.2
L 931.212 259.151
L 931.752 258.768
L 933.12 257.04
L 933.372 256.679
L 935.532 252.545
L 936.072 252.3
L 936.612 253.019
L 938.232 257.2
L 938.592 257.472
L 938.772 257.451
L 939.312 257.187
L 940.392 256.255
L 940.932 255.588
L 942.552 252.971
L 943.092 252.424
L 943.632 252.31
L 944.172 252.735
L 944.712 253.573
L 945.36 254.88
L 945.792 256.593
L 946.872 262.803
L 947.232 263.52
L 947.952 263.412
L 948.96 263.232
L 949.032 263.297
L 949.572 266.699
L 950.112 271.231
L 950.4 272.16
L 950.652 271.833
L 951.732 268.193
L 951.84 268.128
L 952.272 269.326
L 953.352 277.16
L 954 279.648
L 954.432 278.928
L 955.512 274.835
L 955.872 274.32
L 956.052 274.451
L 956.592 275.945
L 957.132 277.861
L 957.672 278.629
L 958.212 277.882
L 958.752 276.197
L 959.832 271.285
L 960.912 266.444
L 961.452 264.847
L 961.992 264.214
L 963.612 263.738
L 965.232 263.525
L 965.772 263.539
L 966.312 263.698
L 967.392 264.393
L 969.012 265.931
L 970.092 266.937
L 971.172 267.646
L 972 267.84
L 977.76 267.84
L 978.192 267.679
L 978.732 267.128
L 980.352 264.948
L 980.928 264.672
L 981.432 265.251
L 981.972 266.887
L 983.592 273.889
L 985.212 281.81
L 985.536 282.24
L 985.752 282.137
L 986.292 281.209
L 986.832 279.898
L 987.372 278.923
L 987.624 278.784
L 987.912 279.465
L 988.452 283.155
L 989.568 308.16
L 990.36 309.312
L 990.612 310.744
L 991.692 322.639
L 991.872 323.136
L 992.232 321.472
L 993.312 309.484
L 993.852 302.263
L 994.392 297.494
L 994.536 297.216
L 994.932 298.075
L 995.472 301.167
L 996.012 304.936
L 996.552 307.69
L 996.84 308.16
L 997.632 308.028
L 998.712 307.487
L 999.36 307.008
L 999.792 306.071
L 1001.412 298.832
L 1001.952 298.091
L 1002.492 298.737
L 1003.572 300.949
L 1004.112 301.237
L 1004.652 301.023
L 1005.732 300.023
L 1007.352 298.255
L 1007.892 297.901
L 1008.432 297.809
L 1008.972 298.817
L 1010.592 304.454
L 1010.88 304.704
L 1011.132 304.629
L 1011.672 304.026
L 1012.212 302.956
L 1014.372 297.339
L 1014.912 296.435
L 1015.488 296.064
L 1015.992 296.329
L 1016.532 297.071
L 1018.152 300.057
L 1018.692 300.602
L 1019.232 300.657
L 1021.392 300.319
L 1022.472 300.675
L 1023.552 301.151
L 1024.128 301.248
L 1024.632 301.131
L 1025.172 300.795
L 1027.584 298.728
L 1028.952 298.203
L 1029.744 298.008
L 1029.744 298.008
" clip-path="url(#p68b2241940)" style="fill: none; stroke: #000000; stroke-width: 2; stroke-linecap: square"/>
</g>
<g id="line2d_16">
<path d="M 92.88 282.96
L 93.42 285.873
L 93.96 287.634
L 94.32 288
L 94.5 287.876
L 95.58 285.244
L 95.76 285.12
L 96.12 285.16
L 97.2 285.627
L 98.82 286.473
L 99.36 286.56
L 99.9 286.447
L 100.98 285.952
L 101.52 285.84
L 102.6 286.008
L 103.68 286.449
L 104.4 286.848
L 104.76 287.267
L 105.84 289.384
L 106.38 289.709
L 106.92 289.181
L 107.46 288.401
L 108 288
L 108.54 288.337
L 109.62 289.822
L 110.16 290.16
L 110.7 289.891
L 112.32 288.083
L 112.608 288
L 112.86 288.069
L 113.4 288.578
L 114.48 290.103
L 115.2 290.592
L 115.56 290.467
L 117.36 288.72
L 119.34 288.276
L 121.5 288.025
L 123.12 288.058
L 124.2 288.33
L 125.82 289.029
L 130.68 291.654
L 131.76 292.191
L 132.84 292.32
L 134.64 292.32
L 135 292.587
L 136.62 295.849
L 136.8 295.92
L 137.7 295.837
L 138.78 295.552
L 139.86 295.078
L 140.4 294.314
L 141.48 292.512
L 141.84 292.32
L 142.02 292.385
L 142.56 293.22
L 144.18 297.548
L 144.72 298.08
L 145.26 297.967
L 146.34 297.473
L 146.88 297.36
L 147.42 297.952
L 147.96 298.94
L 148.32 299.232
L 148.5 299.158
L 149.04 298.261
L 150.12 295.765
L 150.48 295.488
L 151.2 295.576
L 152.28 295.982
L 153.9 296.976
L 156.06 298.502
L 158.22 300.617
L 158.76 300.9
L 159.3 300.934
L 159.84 300.587
L 160.38 299.924
L 162.54 296.485
L 163.08 296.019
L 163.62 295.948
L 164.16 296.293
L 165.24 297.253
L 165.78 297.352
L 166.86 297.067
L 167.94 296.706
L 168.48 296.64
L 169.02 296.91
L 170.1 298.098
L 170.64 298.368
L 171.18 298.049
L 172.26 296.318
L 172.8 295.452
L 173.52 294.912
L 174.42 295.078
L 175.5 295.643
L 176.58 296.492
L 178.74 298.58
L 179.82 300.178
L 180 300.24
L 181.44 300.24
L 181.98 299.723
L 183.06 297.445
L 183.6 296.928
L 184.14 297.288
L 185.22 298.872
L 185.76 299.232
L 186.3 298.827
L 187.38 297.045
L 187.92 296.64
L 188.46 296.745
L 189.54 297.375
L 190.62 298.098
L 191.52 298.368
L 191.7 298.337
L 192.24 297.94
L 193.86 295.884
L 194.4 295.632
L 194.94 295.781
L 196.02 296.673
L 197.1 297.697
L 197.64 298.011
L 198.18 298.056
L 198.72 297.743
L 200.34 296.119
L 200.88 295.92
L 201.96 296.125
L 203.58 296.899
L 205.74 298.084
L 208.98 300.222
L 210.24 300.672
L 212.22 300.898
L 214.92 301.173
L 215.46 301.33
L 216 301.971
L 217.62 304.927
L 218.16 305.28
L 218.7 304.83
L 219.78 302.85
L 220.32 302.4
L 220.86 302.482
L 221.94 303.009
L 223.56 304.097
L 224.64 305.167
L 226.26 306.86
L 226.8 307.235
L 227.52 307.44
L 227.88 307.319
L 228.42 306.765
L 230.58 303.382
L 231.12 303.12
L 232.2 303.348
L 233.82 303.832
L 234 303.84
L 234.36 303.68
L 235.98 301.723
L 236.16 301.68
L 236.52 301.745
L 237.06 302.051
L 238.14 303.129
L 239.22 304.311
L 239.76 304.747
L 240.48 304.992
L 241.38 304.857
L 243.54 304.18
L 244.62 304.168
L 246.96 304.56
L 247.32 304.405
L 247.86 303.725
L 248.94 301.795
L 249.48 301.115
L 250.02 300.967
L 251.1 301.256
L 252.18 301.798
L 254.16 303.84
L 254.34 303.814
L 254.88 303.466
L 255.96 302.04
L 257.04 300.614
L 257.76 300.24
L 258.12 300.333
L 258.66 300.757
L 260.82 303.351
L 261.36 303.552
L 261.9 303.366
L 262.44 302.877
L 263.52 301.392
L 264.6 299.907
L 265.14 299.418
L 265.68 299.232
L 266.76 299.447
L 267.84 299.992
L 271.08 302.069
L 272.16 302.4
L 274.86 302.665
L 275.94 302.668
L 276.48 302.427
L 277.56 301.755
L 278.1 301.708
L 278.64 302.053
L 279.72 303.013
L 280.26 303.104
L 280.8 302.895
L 281.88 302.04
L 282.96 301.185
L 283.68 300.96
L 285.12 301.062
L 287.28 301.494
L 288.36 301.815
L 289.44 302.589
L 291.6 304.644
L 292.14 305.012
L 293.04 305.28
L 293.22 305.246
L 293.76 304.832
L 294.84 303.68
L 295.38 303.563
L 296.46 303.962
L 297.54 304.467
L 298.08 304.56
L 298.62 304.068
L 299.16 302.874
L 300.24 300.065
L 300.78 299.292
L 300.96 299.232
L 301.32 299.627
L 302.94 304.455
L 303.12 304.56
L 305.1 304.592
L 305.64 305.507
L 306.72 308.233
L 307.008 308.448
L 307.26 308.395
L 307.8 307.998
L 308.88 306.812
L 309.6 306.432
L 311.04 306.533
L 313.2 306.72
L 313.74 306.158
L 314.82 303.683
L 315.36 303.12
L 315.9 303.213
L 317.52 303.84
L 319.14 304.102
L 319.68 304.128
L 320.22 302.958
L 321.3 297.81
L 321.84 296.64
L 322.38 297.172
L 322.92 298.462
L 324 301.5
L 324.54 302.335
L 324.72 302.4
L 325.08 302.101
L 326.7 298.447
L 326.88 298.368
L 327.24 298.472
L 327.78 298.946
L 330.48 302.48
L 331.02 303.063
L 331.56 303.462
L 332.1 303.507
L 332.64 302.905
L 333.18 301.77
L 335.34 295.809
L 336.96 290.6
L 337.5 289.789
L 337.68 289.728
L 338.04 290.397
L 338.58 293.164
L 339.12 296.619
L 339.84 299.52
L 340.74 300.284
L 342.36 301.009
L 343.44 301.68
L 343.98 302.389
L 345.6 305.443
L 346.32 306
L 346.68 305.938
L 347.76 305.28
L 348.84 304.622
L 349.38 304.56
L 355.86 304.471
L 356.4 303.244
L 356.94 300.848
L 358.02 293.951
L 359.1 286.586
L 359.64 283.605
L 360.18 281.56
L 360.72 280.8
L 361.26 281.996
L 361.8 284.901
L 362.88 291.735
L 363.42 293.614
L 363.6 293.76
L 363.96 292.853
L 365.58 281.761
L 365.76 281.52
L 366.12 281.573
L 367.92 282.24
L 368.28 282.027
L 368.82 281.065
L 370.44 276.694
L 370.98 275.867
L 371.232 275.76
L 371.52 275.957
L 372.06 277.252
L 372.6 279.459
L 374.76 290.442
L 375.3 291.983
L 375.84 292.539
L 376.92 293.239
L 378 293.669
L 378.72 293.76
L 379.08 293.613
L 379.62 292.903
L 380.16 291.723
L 381.24 288.479
L 381.78 286.535
L 382.32 282.956
L 383.4 274.076
L 383.94 271.366
L 384.192 271.008
L 384.48 271.824
L 385.02 276.673
L 386.1 289.666
L 386.64 292.32
L 387.18 291.757
L 388.26 289.283
L 388.8 288.72
L 389.52 288.72
L 390.24 288.288
L 390.42 288.339
L 390.96 288.96
L 392.04 290.688
L 392.58 290.868
L 393.12 290.702
L 393.66 290.355
L 394.56 289.44
L 394.74 289.129
L 395.28 287.28
L 395.82 281.317
L 396.9 261.922
L 397.44 257.76
L 397.98 257.989
L 398.52 258.611
L 399.6 260.64
L 400.14 263.344
L 401.76 278.552
L 402.3 281.309
L 402.48 281.52
L 404.64 281.52
L 405 280.987
L 406.62 274.462
L 406.8 274.32
L 407.16 274.735
L 407.7 276.558
L 408.78 281.73
L 409.32 283.553
L 409.68 283.968
L 409.86 283.796
L 410.4 281.512
L 410.94 277.349
L 412.02 267.359
L 413.1 260.327
L 413.64 257.145
L 414.18 254.704
L 414.72 253.728
L 415.26 255.429
L 415.8 259.56
L 416.88 269.28
L 417.42 271.953
L 417.6 272.16
L 417.96 271.616
L 418.5 269.278
L 419.58 263.253
L 420.192 261.792
L 420.66 262.715
L 422.28 270.875
L 422.64 271.44
L 422.82 271.416
L 423.36 271.103
L 424.98 269.479
L 425.52 269.28
L 426.06 269.944
L 426.6 271.558
L 427.68 275.355
L 428.22 276.399
L 428.4 276.48
L 428.76 276.392
L 429.3 275.948
L 429.84 275.159
L 430.848 272.88
L 430.92 272.594
L 431.46 265.76
L 432.54 242.22
L 433.152 234.72
L 433.62 233.458
L 434.7 231.599
L 434.88 231.12
L 435.24 229.392
L 435.78 225.821
L 436.32 223.92
L 436.86 226.847
L 437.94 240.531
L 438.48 244.8
L 439.02 246.187
L 440.1 247.897
L 440.64 249.12
L 441.18 251.518
L 442.26 258.277
L 442.8 260.64
L 443.88 262.747
L 444.42 264.06
L 446.04 270.98
L 446.4 271.44
L 446.58 271.1
L 447.12 266.715
L 448.74 243.991
L 449.28 241.2
L 449.82 241.996
L 450.36 244.022
L 452.16 252.72
L 454.14 259.532
L 454.68 260.766
L 455.328 261.36
L 455.76 260.519
L 456.3 257.813
L 456.84 254.497
L 457.38 251.886
L 457.632 251.28
L 457.92 250.96
L 459 250.25
L 459.36 249.84
L 459.54 249.197
L 460.08 243.512
L 461.7 216.389
L 462.24 213.12
L 462.78 222.961
L 463.32 240.043
L 463.68 246.24
L 463.86 247.071
L 464.4 248.815
L 465.84 252
L 466.02 252.664
L 466.56 255.302
L 468.18 265.159
L 468.72 267.609
L 469.26 268.897
L 469.44 268.992
L 469.8 267.758
L 470.34 261.856
L 470.88 252.206
L 473.58 191.456
L 474.12 185.554
L 474.48 184.32
L 474.66 184.929
L 475.2 192.347
L 476.28 212.987
L 476.64 215.28
L 476.82 215.125
L 477.9 211.835
L 478.08 211.68
L 478.98 211.754
L 480.06 212.028
L 480.96 212.4
L 481.14 212.625
L 481.68 214.737
L 482.22 218.407
L 483.84 231.12
L 486.54 248.246
L 487.08 250.309
L 487.728 251.28
L 488.16 249.36
L 488.7 243.079
L 489.78 228.266
L 490.32 225.36
L 490.86 226.433
L 491.4 229.322
L 492.48 238.566
L 494.1 253.669
L 494.64 257.053
L 495.18 258.787
L 495.36 258.912
L 495.72 258.37
L 496.26 255.869
L 496.8 252
L 497.34 243.044
L 500.58 169.367
L 501.12 161.916
L 502.2 149.851
L 502.74 145.653
L 503.28 143.28
L 503.82 142.323
L 504.72 141.12
L 504.9 140.734
L 505.44 139.121
L 506.52 135.23
L 507.06 133.776
L 507.6 133.2
L 508.14 133.722
L 509.04 136.08
L 509.22 136.858
L 509.76 141.563
L 510.3 148.976
L 512.46 183.842
L 513 188.396
L 513.36 189.36
L 513.54 189.14
L 514.08 186.348
L 514.8 180
L 515.16 174.69
L 516.24 151.269
L 516.78 147.604
L 517.86 147.944
L 518.94 148.309
L 519.12 148.32
L 519.48 145.913
L 520.56 126.363
L 521.1 122.224
L 522.432 120.96
L 522.72 119.133
L 524.34 94.96
L 524.448 94.752
L 524.88 96.696
L 525.42 103.545
L 526.752 129.6
L 527.04 136.274
L 528.12 167.581
L 528.66 176.412
L 529.74 187.139
L 530.82 194.895
L 532.44 203.94
L 534.6 215.351
L 535.68 219.996
L 536.76 223.605
L 537.84 226.96
L 538.38 228.38
L 538.92 229.452
L 539.46 230.04
L 539.712 230.112
L 540 229.867
L 540.54 228.231
L 541.08 225.369
L 542.16 217.44
L 542.7 211.978
L 543.24 204.035
L 544.032 187.2
L 544.32 173.842
L 544.86 141.896
L 545.04 138.24
L 545.4 137.707
L 545.94 137.155
L 546.48 136.866
L 547.02 136.834
L 547.56 137.923
L 548.1 140.248
L 549.18 146.995
L 550.26 153.85
L 550.8 156.31
L 551.34 157.587
L 551.52 157.68
L 551.88 157.63
L 552.42 157.383
L 552.96 156.96
L 553.5 151.771
L 554.58 133.664
L 554.832 132.48
L 555.12 134.108
L 555.66 144.515
L 556.74 181.29
L 557.28 200.403
L 557.82 215.163
L 558.432 222.048
L 558.9 220.873
L 559.44 217.138
L 560.52 205.624
L 561.06 199.33
L 562.68 171.06
L 563.04 169.2
L 563.22 169.565
L 563.76 174.385
L 564.84 193.366
L 565.38 203.079
L 565.92 209.975
L 566.352 211.968
L 566.46 211.885
L 567 209.425
L 568.08 200.344
L 568.62 197.507
L 568.8 197.28
L 569.16 197.541
L 569.7 198.765
L 570.78 203.078
L 571.86 207.804
L 572.4 209.547
L 572.94 210.461
L 573.12 210.528
L 573.48 210.166
L 574.02 208.412
L 574.56 205.49
L 575.64 197.409
L 576.18 192.435
L 577.26 173.156
L 577.8 169.148
L 578.88 168.778
L 579.6 168.48
L 579.96 167.865
L 580.5 165.811
L 581.76 158.4
L 582.12 155.686
L 582.66 150.045
L 584.82 123.508
L 585.36 119.814
L 585.792 118.8
L 585.9 118.84
L 586.44 120.072
L 586.98 122.555
L 588.6 131.761
L 588.96 133.2
L 589.14 133.316
L 590.22 133.622
L 591.12 133.92
L 591.3 134.152
L 591.84 135.892
L 592.38 138.102
L 592.992 139.392
L 593.46 139.231
L 594 138.597
L 594.54 137.4
L 595.08 135.553
L 595.44 133.92
L 595.62 130.028
L 596.16 108
L 597.24 88.973
L 597.78 81.809
L 598.32 76.785
L 598.86 74.332
L 599.04 74.16
L 599.4 75.44
L 599.94 80.66
L 600.48 86.96
L 601.02 91.1
L 601.2 91.44
L 601.56 90.344
L 602.1 85.636
L 603.18 73.502
L 603.792 70.56
L 604.26 72.83
L 604.8 79.449
L 605.88 94.631
L 606.42 97.815
L 607.68 100.8
L 608.04 102.642
L 608.58 106.975
L 610.2 122.872
L 610.74 126.224
L 611.82 130.768
L 613.44 136.8
L 614.52 142.93
L 614.88 143.712
L 615.06 143.445
L 615.6 139.961
L 617.04 122.4
L 617.22 120.208
L 618.84 96.95
L 619.2 95.04
L 619.38 94.769
L 620.64 93.6
L 621 92.219
L 621.54 87.971
L 622.62 77.956
L 623.232 75.6
L 623.7 76.515
L 624.24 79.321
L 626.94 97.659
L 627.48 100.682
L 628.128 102.24
L 628.56 101.618
L 629.1 100.075
L 629.64 99.393
L 630.18 101.389
L 631.8 113.004
L 632.16 113.76
L 632.34 113.543
L 633.42 108.937
L 633.6 108.72
L 633.96 109.25
L 634.5 111.909
L 635.04 116.571
L 635.58 122.974
L 636.48 136.8
L 637.2 162
L 637.74 164.197
L 638.64 166.32
L 638.82 167.053
L 639.9 172.298
L 640.08 172.8
L 640.44 173.448
L 642.24 175.68
L 642.6 176.752
L 643.68 182.513
L 644.22 185.464
L 644.76 187.472
L 645.12 187.92
L 645.3 187.718
L 645.84 185.107
L 647.46 171.581
L 648 169.92
L 648.54 171.777
L 650.16 184.32
L 651.78 190.203
L 652.32 191.727
L 652.86 192.873
L 653.4 193.544
L 653.76 193.68
L 653.94 193.609
L 654.48 192.747
L 655.56 190.347
L 655.92 190.08
L 656.1 190.209
L 656.64 191.845
L 657.72 197.352
L 658.26 199.192
L 658.512 199.44
L 658.8 198.599
L 659.34 193.484
L 660.42 178.401
L 660.96 173.52
L 661.5 171.449
L 662.4 168.48
L 662.58 167.439
L 663.66 158.019
L 664.128 156.24
L 664.2 156.275
L 664.74 158.372
L 665.82 166.348
L 666.432 168.48
L 666.9 167.585
L 668.52 159.668
L 668.88 159.12
L 669.06 159.153
L 669.6 159.579
L 670.32 160.56
L 670.68 161.386
L 672.3 167.567
L 672.84 168.171
L 673.38 166.824
L 673.92 163.868
L 675.54 152.242
L 676.08 149.746
L 676.512 149.04
L 676.62 149.154
L 677.16 152.53
L 678.24 164.994
L 678.78 168.889
L 678.96 169.2
L 679.32 168.434
L 680.4 162.351
L 680.832 161.28
L 680.94 161.361
L 681.48 163.558
L 682.02 166.81
L 682.56 168.48
L 683.1 165.689
L 683.64 158.912
L 684.72 142.965
L 685.26 138.58
L 685.44 138.24
L 685.8 138.308
L 686.34 138.632
L 687.42 139.844
L 688.5 141.427
L 689.04 142.824
L 690.12 146.403
L 690.66 147.773
L 691.2 148.32
L 691.74 146.638
L 692.28 142.576
L 693.36 133.2
L 694.44 125.491
L 694.98 123.275
L 696.06 120.451
L 696.6 119.681
L 696.96 119.52
L 697.14 119.979
L 697.68 125.568
L 698.76 143.766
L 699.3 156.341
L 699.84 162.72
L 700.38 160.996
L 700.92 156.707
L 702 145.741
L 702.54 141.717
L 703.08 140.421
L 703.62 141.719
L 705.24 149.268
L 705.6 149.76
L 705.78 149.482
L 706.32 145.958
L 707.4 134.096
L 707.94 130.135
L 708.192 129.6
L 708.48 130.332
L 709.02 134.919
L 711.72 170.607
L 712.26 176.253
L 712.8 178.56
L 713.34 174.806
L 714.42 157.579
L 714.96 152.64
L 715.5 151.454
L 716.58 150.104
L 717.12 149.04
L 717.66 146.071
L 718.2 142.423
L 718.56 141.408
L 718.74 141.744
L 719.28 146.051
L 721.44 174.085
L 721.98 180.404
L 722.52 184.776
L 722.88 185.76
L 725.76 185.76
L 726.3 185.566
L 727.92 184.16
L 728.46 184.035
L 729.54 184.32
L 730.8 185.04
L 731.16 185.439
L 732.78 188.603
L 733.32 188.902
L 733.86 187.304
L 735.48 176.763
L 736.128 174.96
L 736.56 176.382
L 738.18 189.855
L 738.432 190.368
L 740.88 190.368
L 741.42 189.068
L 741.96 185.802
L 743.58 173.723
L 744.192 172.08
L 744.66 172.598
L 745.2 174.227
L 746.82 181.592
L 748.44 191.6
L 748.8 192.24
L 748.98 192.18
L 749.52 191.425
L 750.6 188.884
L 751.14 188.035
L 751.392 187.92
L 751.68 188.093
L 752.22 189.161
L 753.84 193.736
L 754.38 194.093
L 754.92 193.539
L 756 191.491
L 756.72 190.8
L 757.62 190.9
L 759.6 191.232
L 759.78 191.138
L 760.32 190
L 761.4 186.832
L 761.76 186.48
L 764.64 186.48
L 765.18 187.983
L 765.72 190.91
L 766.368 192.96
L 766.8 192.829
L 767.34 192.388
L 768.42 191.233
L 768.96 190.86
L 769.248 190.8
L 769.5 190.922
L 770.04 191.827
L 771.12 194.583
L 771.84 195.552
L 773.28 195.707
L 774.9 195.874
L 775.98 196.251
L 777.6 197.146
L 778.68 197.816
L 779.76 198.725
L 780.48 199.008
L 781.92 198.87
L 782.64 198.72
L 783 198.501
L 784.62 196.599
L 784.8 196.56
L 785.16 196.938
L 785.7 198.561
L 786.78 202.745
L 787.392 203.76
L 787.86 203.675
L 788.94 203.065
L 790.02 202.431
L 790.56 202.32
L 791.1 202.462
L 791.64 202.838
L 794.34 205.49
L 794.88 205.632
L 795.96 205.495
L 797.76 205.2
L 798.12 205.273
L 798.66 205.625
L 799.74 206.922
L 801.36 209.241
L 801.9 209.815
L 802.44 210.167
L 802.98 210.183
L 803.52 209.452
L 805.14 205.665
L 805.68 205.2
L 806.22 205.988
L 807.3 209.452
L 807.84 210.24
L 808.92 210.012
L 810.54 209.528
L 811.08 209.549
L 812.16 209.901
L 815.4 211.407
L 817.56 212.249
L 818.64 212.4
L 820.26 212.216
L 822.24 211.968
L 822.42 212.008
L 822.96 212.511
L 824.04 214.206
L 824.58 214.772
L 825.12 214.833
L 826.2 214.577
L 828.36 213.909
L 832.68 213.142
L 833.22 213.122
L 833.76 213.533
L 834.84 215.077
L 835.38 215.364
L 837 215.68
L 838.62 216.006
L 840.78 216.854
L 841.32 216.793
L 842.94 216.072
L 844.56 216.224
L 847.44 216.864
L 849.42 217.368
L 850.68 217.872
L 851.04 218.174
L 852.12 219.394
L 852.336 219.456
L 852.66 219.408
L 854.28 218.808
L 854.82 218.918
L 855.9 219.626
L 857.52 221.141
L 858.6 222.573
L 859.14 222.839
L 859.68 222.579
L 860.22 222.138
L 860.76 221.904
L 861.3 222.551
L 862.38 225.486
L 862.992 226.296
L 863.46 225.931
L 864 224.868
L 865.08 222.467
L 865.62 222.048
L 866.7 222.324
L 868.32 222.99
L 868.86 223.055
L 870.12 222.696
L 870.48 222.798
L 871.02 223.236
L 872.1 224.366
L 872.712 224.64
L 873.18 224.529
L 875.34 223.344
L 876.42 223.603
L 878.58 224.554
L 879.192 224.64
L 881.28 224.459
L 883.44 225.792
L 886.68 225.727
L 887.22 226.089
L 889.38 228.162
L 889.92 228.28
L 892.08 228.538
L 893.808 229.968
L 894.78 229.794
L 896.04 229.536
L 896.94 229.706
L 898.056 230.184
L 899.352 231.12
L 900.18 230.338
L 901.26 230.086
L 901.944 230.04
L 902.34 230.11
L 902.88 230.397
L 903.96 231.391
L 905.04 232.508
L 905.58 232.948
L 906.12 233.222
L 906.66 233.262
L 907.2 233.036
L 908.82 232.018
L 909.36 231.991
L 910.44 232.137
L 912.06 232.637
L 914.256 233.64
L 915.3 234.42
L 916.38 235.637
L 919.62 239.65
L 921.78 241.727
L 922.86 242.447
L 924.48 243.046
L 925.92 243.648
L 926.1 243.769
L 927.18 244.931
L 928.26 246.085
L 928.8 246.368
L 930.42 246.831
L 931.752 247.248
L 932.58 247.783
L 933.696 248.544
L 934.74 248.868
L 936.36 249.332
L 936.648 249.48
L 936.9 249.765
L 937.44 250.839
L 937.98 251.422
L 938.52 250.952
L 939.6 249.324
L 939.888 249.192
L 940.14 249.3
L 941.22 250.668
L 941.472 250.776
L 941.76 250.718
L 942.3 250.355
L 943.92 248.573
L 944.712 248.184
L 945 248.23
L 945.54 248.53
L 946.62 249.656
L 947.952 251.136
L 950.94 253.619
L 951.48 253.824
L 953.784 254.376
L 954.18 254.61
L 956.376 256.608
L 957.96 256.908
L 959.04 257.136
L 959.58 257.441
L 961.2 258.626
L 961.74 258.672
L 962.28 258.37
L 963.9 257.014
L 964.44 256.978
L 965.52 257.156
L 968.22 257.743
L 970.92 258.165
L 971.46 258.348
L 972 258.867
L 973.08 260.185
L 973.62 260.423
L 974.16 260.237
L 975.24 259.271
L 976.32 258.337
L 976.86 258.193
L 977.4 258.424
L 978.12 259.128
L 978.48 259.927
L 979.02 261.871
L 979.704 263.376
L 980.1 263.313
L 982.296 262.368
L 982.8 262.487
L 983.34 262.828
L 983.952 263.376
L 984.42 264.396
L 985.5 268.065
L 985.896 268.56
L 986.04 268.501
L 986.58 267.462
L 987.66 264.219
L 988.2 263.67
L 988.74 264.024
L 990.432 266.256
L 991.44 266.869
L 992.664 267.552
L 994.14 268.832
L 995.22 269.584
L 996.84 270.49
L 997.38 271.009
L 997.92 272.121
L 999 274.977
L 999.54 275.859
L 999.792 275.976
L 1000.08 275.657
L 1000.62 273.791
L 1001.7 269.142
L 1002.096 268.56
L 1002.24 268.575
L 1002.78 268.826
L 1003.86 269.473
L 1004.04 269.496
L 1004.4 269.361
L 1006.272 267.552
L 1006.56 267.614
L 1007.1 267.98
L 1008.216 268.992
L 1010.88 270.659
L 1011.96 271.62
L 1012.752 272.736
L 1013.04 273.6
L 1014.66 279.852
L 1014.912 280.08
L 1015.2 279.631
L 1015.74 277.438
L 1016.352 275.76
L 1016.82 277.236
L 1017.9 285.084
L 1018.368 286.56
L 1018.44 286.507
L 1018.98 283.491
L 1019.52 278.359
L 1020.06 274.638
L 1020.24 274.32
L 1020.6 274.693
L 1022.22 279.261
L 1022.4 279.36
L 1022.76 279.113
L 1023.3 278.024
L 1024.38 274.936
L 1024.92 273.848
L 1025.28 273.6
L 1025.46 273.613
L 1026 273.78
L 1027.62 274.646
L 1028.16 274.752
L 1028.7 274.683
L 1029.6 274.32
L 1029.6 274.32
" clip-path="url(#p68b2241940)" style="fill: none; stroke: #ff0000; stroke-width: 2; stroke-linecap: square"/>
</g>
<g id="legend_1">
<g id="patch_3">
<path d="M 1008.606 96.144
L 1070.336 96.144
Q 1072.336 96.144 1072.336 94.144
L 1072.336 64.888
Q 1072.336 62.888 1070.336 62.888
L 1008.606 62.888
Q 1006.606 62.888 1006.606 64.888
L 1006.606 94.144
Q 1006.606 96.144 1008.606 96.144
z
" style="fill: #ffffff; opacity: 0.8; stroke: #cccccc; stroke-linejoin: miter"/>
</g>
<g id="line2d_17">
<path d="M 1010.606 70.986
L 1020.606 70.986
L 1030.606 70.986
" style="fill: none; stroke: #000000; stroke-width: 2; stroke-linecap: square"/>
</g>
<g id="text_16">
<!-- data -->
<g transform="translate(1038.606 74.486) scale(0.1 -0.1)">
<defs>
<path id="DejaVuSans-64" d="M 2906 2969
L 2906 4863
L 3481 4863
L 3481 0
L 2906 0
L 2906 525
Q 2725 213 2448 61
Q 2172 -91 1784 -91
Q 1150 -91 751 415
Q 353 922 353 1747
Q 353 2572 751 3078
Q 1150 3584 1784 3584
Q 2172 3584 2448 3432
Q 2725 3281 2906 2969
z
M 947 1747
Q 947 1113 1208 752
Q 1469 391 1925 391
Q 2381 391 2643 752
Q 2906 1113 2906 1747
Q 2906 2381 2643 2742
Q 2381 3103 1925 3103
Q 1469 3103 1208 2742
Q 947 2381 947 1747
z
" transform="scale(0.016)"/>
</defs>
<use href="#DejaVuSans-64"/>
<use href="#DejaVuSans-61" transform="translate(63.477 0)"/>
<use href="#DejaVuSans-74" transform="translate(124.756 0)"/>
<use href="#DejaVuSans-61" transform="translate(163.965 0)"/>
</g>
</g>
<g id="line2d_18">
<path d="M 1010.606 86.565
L 1020.606 86.565
L 1030.606 86.565
" style="fill: none; stroke: #ff0000; stroke-width: 2; stroke-linecap: square"/>
</g>
<g id="text_17">
<!-- CIOFS -->
<g transform="translate(1038.606 90.065) scale(0.1 -0.1)">
<defs>
<path id="DejaVuSans-49" d="M 628 4666
L 1259 4666
L 1259 0
L 628 0
L 628 4666
z
" transform="scale(0.016)"/>
<path id="DejaVuSans-4f" d="M 2522 4238
Q 1834 4238 1429 3725
Q 1025 3213 1025 2328
Q 1025 1447 1429 934
Q 1834 422 2522 422
Q 3209 422 3611 934
Q 4013 1447 4013 2328
Q 4013 3213 3611 3725
Q 3209 4238 2522 4238
z
M 2522 4750
Q 3503 4750 4090 4092
Q 4678 3434 4678 2328
Q 4678 1225 4090 567
Q 3503 -91 2522 -91
Q 1538 -91 948 565
Q 359 1222 359 2328
Q 359 3434 948 4092
Q 1538 4750 2522 4750
z
" transform="scale(0.016)"/>
<path id="DejaVuSans-46" d="M 628 4666
L 3309 4666
L 3309 4134
L 1259 4134
L 1259 2759
L 3109 2759
L 3109 2228
L 1259 2228
L 1259 0
L 628 0
L 628 4666
z
" transform="scale(0.016)"/>
</defs>
<use href="#DejaVuSans-43"/>
<use href="#DejaVuSans-49" transform="translate(69.824 0)"/>
<use href="#DejaVuSans-4f" transform="translate(99.316 0)"/>
<use href="#DejaVuSans-46" transform="translate(178.027 0)"/>
<use href="#DejaVuSans-53" transform="translate(233.797 0)"/>
</g>
</g>
</g>
</g>
<g id="text_18">
<!-- noaa_nos_co_ops_9457292: bias: -0.8  corr: 0.9  ioa: nan  mse: 2.6  ss: 0.7  rmse: 1.6  dist: 16.3 -->
<g transform="translate(45.36 15.12) scale(0.16 -0.16)">
<defs>
<path id="DejaVuSans-6e" d="M 3513 2113
L 3513 0
L 2938 0
L 2938 2094
Q 2938 2591 2744 2837
Q 2550 3084 2163 3084
Q 1697 3084 1428 2787
Q 1159 2491 1159 1978
L 1159 0
L 581 0
L 581 3500
L 1159 3500
L 1159 2956
Q 1366 3272 1645 3428
Q 1925 3584 2291 3584
Q 2894 3584 3203 3211
Q 3513 2838 3513 2113
z
" transform="scale(0.016)"/>
<path id="DejaVuSans-6f" d="M 1959 3097
Q 1497 3097 1228 2736
Q 959 2375 959 1747
Q 959 1119 1226 758
Q 1494 397 1959 397
Q 2419 397 2687 759
Q 2956 1122 2956 1747
Q 2956 2369 2687 2733
Q 2419 3097 1959 3097
z
M 1959 3584
Q 2709 3584 3137 3096
Q 3566 2609 3566 1747
Q 3566 888 3137 398
Q 2709 -91 1959 -91
Q 1206 -91 779 398
Q 353 888 353 1747
Q 353 2609 779 3096
Q 1206 3584 1959 3584
z
" transform="scale(0.016)"/>
<path id="DejaVuSans-5f" d="M 3263 -1063
L 3263 -1509
L -63 -1509
L -63 -1063
L 3263 -1063
z
" transform="scale(0.016)"/>
<path id="DejaVuSans-73" d="M 2834 3397
L 2834 2853
Q 2591 2978 2328 3040
Q 2066 3103 1784 3103
Q 1356 3103 1142 2972
Q 928 2841 928 2578
Q 928 2378 1081 2264
Q 1234 2150 1697 2047
L 1894 2003
Q 2506 1872 2764 1633
Q 3022 1394 3022 966
Q 3022 478 2636 193
Q 2250 -91 1575 -91
Q 1294 -91 989 -36
Q 684 19 347 128
L 347 722
Q 666 556 975 473
Q 1284 391 1588 391
Q 1994 391 2212 530
Q 2431 669 2431 922
Q 2431 1156 2273 1281
Q 2116 1406 1581 1522
L 1381 1569
Q 847 1681 609 1914
Q 372 2147 372 2553
Q 372 3047 722 3315
Q 1072 3584 1716 3584
Q 2034 3584 2315 3537
Q 2597 3491 2834 3397
z
" transform="scale(0.016)"/>
<path id="DejaVuSans-63" d="M 3122 3366
L 3122 2828
Q 2878 2963 2633 3030
Q 2388 3097 2138 3097
Q 1578 3097 1268 2742
Q 959 2388 959 1747
Q 959 1106 1268 751
Q 1578 397 2138 397
Q 2388 397 2633 464
Q 2878 531 3122 666
L 3122 134
Q 2881 22 2623 -34
Q 2366 -91 2075 -91
Q 1284 -91 818 406
Q 353 903 353 1747
Q 353 2603 823 3093
Q 1294 3584 2113 3584
Q 2378 3584 2631 3529
Q 2884 3475 3122 3366
z
" transform="scale(0.016)"/>
<path id="DejaVuSans-3a" d="M 750 794
L 1409 794
L 1409 0
L 750 0
L 750 794
z
M 750 3309
L 1409 3309
L 1409 2516
L 750 2516
L 750 3309
z
" transform="scale(0.016)"/>
<path id="DejaVuSans-62" d="M 3116 1747
Q 3116 2381 2855 2742
Q 2594 3103 2138 3103
Q 1681 3103 1420 2742
Q 1159 2381 1159 1747
Q 1159 1113 1420 752
Q 1681 391 2138 391
Q 2594 391 2855 752
Q 3116 1113 3116 1747
z
M 1159 2969
Q 1341 3281 1617 3432
Q 1894 3584 2278 3584
Q 2916 3584 3314 3078
Q 3713 2572 3713 1747
Q 3713 922 3314 415
Q 2916 -91 2278 -91
Q 1894 -91 1617 61
Q 1341 213 1159 525
L 1159 0
L 581 0
L 581 4863
L 1159 4863
L 1159 2969
z
" transform="scale(0.016)"/>
<path id="DejaVuSans-69" d="M 603 3500
L 1178 3500
L 1178 0
L 603 0
L 603 3500
z
M 603 4863
L 1178 4863
L 1178 4134
L 603 4134
L 603 4863
z
" transform="scale(0.016)"/>
<path id="DejaVuSans-2e" d="M 684 794
L 1344 794
L 1344 0
L 684 0
L 684 794
z
" transform="scale(0.016)"/>
</defs>
<use href="#DejaVuSans-6e"/>
<use href="#DejaVuSans-6f" transform="translate(63.379 0)"/>
<use href="#DejaVuSans-61" transform="translate(124.561 0)"/>
<use href="#DejaVuSans-61" transform="translate(185.84 0)"/>
<use href="#DejaVuSans-5f" transform="translate(247.119 0)"/>
<use href="#DejaVuSans-6e" transform="translate(297.119 0)"/>
<use href="#DejaVuSans-6f" transform="translate(360.498 0)"/>
<use href="#DejaVuSans-73" transform="translate(421.68 0)"/>
<use href="#DejaVuSans-5f" transform="translate(473.779 0)"/>
<use href="#DejaVuSans-63" transform="translate(523.779 0)"/>
<use href="#DejaVuSans-6f" transform="translate(578.76 0)"/>
<use href="#DejaVuSans-5f" transform="translate(639.941 0)"/>
<use href="#DejaVuSans-6f" transform="translate(689.941 0)"/>
<use href="#DejaVuSans-70" transform="translate(751.123 0)"/>
<use href="#DejaVuSans-73" transform="translate(814.6 0)"/>
<use href="#DejaVuSans-5f" transform="translate(866.699 0)"/>
<use href="#DejaVuSans-39" transform="translate(916.699 0)"/>
<use href="#DejaVuSans-34" transform="translate(980.322 0)"/>
<use href="#DejaVuSans-35" transform="translate(1043.945 0)"/>
<use href="#DejaVuSans-37" transform="translate(1107.568 0)"/>
<use href="#DejaVuSans-32" transform="translate(1171.191 0)"/>
<use href="#DejaVuSans-39" transform="translate(1234.814 0)"/>
<use href="#DejaVuSans-32" transform="translate(1298.438 0)"/>
<use href="#DejaVuSans-3a" transform="translate(1362.061 0)"/>
<use href="#DejaVuSans-20" transform="translate(1395.752 0)"/>
<use href="#DejaVuSans-62" transform="translate(1427.539 0)"/>
<use href="#DejaVuSans-69" transform="translate(1491.016 0)"/>
<use href="#DejaVuSans-61" transform="translate(1518.799 0)"/>
<use href="#DejaVuSans-73" transform="translate(1580.078 0)"/>
<use href="#DejaVuSans-3a" transform="translate(1632.178 0)"/>
<use href="#DejaVuSans-20" transform="translate(1665.869 0)"/>
<use href="#DejaVuSans-2d" transform="translate(1697.656 0)"/>
<use href="#DejaVuSans-30" transform="translate(1733.74 0)"/>
<use href="#DejaVuSans-2e" transform="translate(1797.363 0)"/>
<use href="#DejaVuSans-38" transform="translate(1829.15 0)"/>
<use href="#DejaVuSans-20" transform="translate(1892.773 0)"/>
<use href="#DejaVuSans-20" transform="translate(1924.561 0)"/>
<use href="#DejaVuSans-63" transform="translate(1956.348 0)"/>
<use href="#DejaVuSans-6f" transform="translate(2011.328 0)"/>
<use href="#DejaVuSans-72" transform="translate(2072.51 0)"/>
<use href="#DejaVuSans-72" transform="translate(2111.873 0)"/>
<use href="#DejaVuSans-3a" transform="translate(2151.236 0)"/>
<use href="#DejaVuSans-20" transform="translate(2184.928 0)"/>
<use href="#DejaVuSans-30" transform="translate(2216.715 0)"/>
<use href="#DejaVuSans-2e" transform="translate(2280.338 0)"/>
<use href="#DejaVuSans-39" transform="translate(2312.125 0)"/>
<use href="#DejaVuSans-20" transform="translate(2375.748 0)"/>
<use href="#DejaVuSans-20" transform="translate(2407.535 0)"/>
<use href="#DejaVuSans-69" transform="translate(2439.322 0)"/>
<use href="#DejaVuSans-6f" transform="translate(2467.105 0)"/>
<use href="#DejaVuSans-61" transform="translate(2528.287 0)"/>
<use href="#DejaVuSans-3a" transform="translate(2589.566 0)"/>
<use href="#DejaVuSans-20" transform="translate(2623.258 0)"/>
<use href="#DejaVuSans-6e" transform="translate(2655.045 0)"/>
<use href="#DejaVuSans-61" transform="translate(2718.424 0)"/>
<use href="#DejaVuSans-6e" transform="translate(2779.703 0)"/>
<use href="#DejaVuSans-20" transform="translate(2843.082 0)"/>
<use href="#DejaVuSans-20" transform="translate(2874.869 0)"/>
<use href="#DejaVuSans-6d" transform="translate(2906.656 0)"/>
<use href="#DejaVuSans-73" transform="translate(3004.068 0)"/>
<use href="#DejaVuSans-65" transform="translate(3056.168 0)"/>
<use href="#DejaVuSans-3a" transform="translate(3117.691 0)"/>
<use href="#DejaVuSans-20" transform="translate(3151.383 0)"/>
<use href="#DejaVuSans-32" transform="translate(3183.17 0)"/>
<use href="#DejaVuSans-2e" transform="translate(3246.793 0)"/>
<use href="#DejaVuSans-36" transform="translate(3278.58 0)"/>
<use href="#DejaVuSans-20" transform="translate(3342.203 0)"/>
<use href="#DejaVuSans-20" transform="translate(3373.99 0)"/>
<use href="#DejaVuSans-73" transform="translate(3405.777 0)"/>
<use href="#DejaVuSans-73" transform="translate(3457.877 0)"/>
<use href="#DejaVuSans-3a" transform="translate(3509.977 0)"/>
<use href="#DejaVuSans-20" transform="translate(3543.668 0)"/>
<use href="#DejaVuSans-30" transform="translate(3575.455 0)"/>
<use href="#DejaVuSans-2e" transform="translate(3639.078 0)"/>
<use href="#DejaVuSans-37" transform="translate(3670.865 0)"/>
<use href="#DejaVuSans-20" transform="translate(3734.488 0)"/>
<use href="#DejaVuSans-20" transform="translate(3766.275 0)"/>
<use href="#DejaVuSans-72" transform="translate(3798.062 0)"/>
<use href="#DejaVuSans-6d" transform="translate(3837.426 0)"/>
<use href="#DejaVuSans-73" transform="translate(3934.838 0)"/>
<use href="#DejaVuSans-65" transform="translate(3986.938 0)"/>
<use href="#DejaVuSans-3a" transform="translate(4048.461 0)"/>
<use href="#DejaVuSans-20" transform="translate(4082.152 0)"/>
<use href="#DejaVuSans-31" transform="translate(4113.939 0)"/>
<use href="#DejaVuSans-2e" transform="translate(4177.562 0)"/>
<use href="#DejaVuSans-36" transform="translate(4209.35 0)"/>
<use href="#DejaVuSans-20" transform="translate(4272.973 0)"/>
<use href="#DejaVuSans-20" transform="translate(4304.76 0)"/>
<use href="#DejaVuSans-64" transform="translate(4336.547 0)"/>
<use href="#DejaVuSans-69" transform="translate(4400.023 0)"/>
<use href="#DejaVuSans-73" transform="translate(4427.807 0)"/>
<use href="#DejaVuSans-74" transform="translate(4479.906 0)"/>
<use href="#DejaVuSans-3a" transform="translate(4519.115 0)"/>
<use href="#DejaVuSans-20" transform="translate(4552.807 0)"/>
<use href="#DejaVuSans-31" transform="translate(4584.594 0)"/>
<use href="#DejaVuSans-36" transform="translate(4648.217 0)"/>
<use href="#DejaVuSans-2e" transform="translate(4711.84 0)"/>
<use href="#DejaVuSans-33" transform="translate(4743.627 0)"/>
</g>
</g>
<g id="text_19">
<!-- 2013-01-01 depth: 0.0 lon: -152.51 lat: 57.73 -->
<g transform="translate(45.36 34.416) scale(0.16 -0.16)">
<defs>
<path id="DejaVuSans-68" d="M 3513 2113
L 3513 0
L 2938 0
L 2938 2094
Q 2938 2591 2744 2837
Q 2550 3084 2163 3084
Q 1697 3084 1428 2787
Q 1159 2491 1159 1978
L 1159 0
L 581 0
L 581 4863
L 1159 4863
L 1159 2956
Q 1366 3272 1645 3428
Q 1925 3584 2291 3584
Q 2894 3584 3203 3211
Q 3513 2838 3513 2113
z
" transform="scale(0.016)"/>
<path id="DejaVuSans-6c" d="M 603 4863
L 1178 4863
L 1178 0
L 603 0
L 603 4863
z
" transform="scale(0.016)"/>
</defs>
<use href="#DejaVuSans-32"/>
<use href="#DejaVuSans-30" transform="translate(63.623 0)"/>
<use href="#DejaVuSans-31" transform="translate(127.246 0)"/>
<use href="#DejaVuSans-33" transform="translate(190.869 0)"/>
<use href="#DejaVuSans-2d" transform="translate(254.492 0)"/>
<use href="#DejaVuSans-30" transform="translate(290.576 0)"/>
<use href="#DejaVuSans-31" transform="translate(354.199 0)"/>
<use href="#DejaVuSans-2d" transform="translate(417.822 0)"/>
<use href="#DejaVuSans-30" transform="translate(453.906 0)"/>
<use href="#DejaVuSans-31" transform="translate(517.529 0)"/>
<use href="#DejaVuSans-20" transform="translate(581.152 0)"/>
<use href="#DejaVuSans-64" transform="translate(612.939 0)"/>
<use href="#DejaVuSans-65" transform="translate(676.416 0)"/>
<use href="#DejaVuSans-70" transform="translate(737.939 0)"/>
<use href="#DejaVuSans-74" transform="translate(801.416 0)"/>
<use href="#DejaVuSans-68" transform="translate(840.625 0)"/>
<use href="#DejaVuSans-3a" transform="translate(904.004 0)"/>
<use href="#DejaVuSans-20" transform="translate(937.695 0)"/>
<use href="#DejaVuSans-30" transform="translate(969.482 0)"/>
<use href="#DejaVuSans-2e" transform="translate(1033.105 0)"/>
<use href="#DejaVuSans-30" transform="translate(1064.893 0)"/>
<use href="#DejaVuSans-20" transform="translate(1128.516 0)"/>
<use href="#DejaVuSans-6c" transform="translate(1160.303 0)"/>
<use href="#DejaVuSans-6f" transform="translate(1188.086 0)"/>
<use href="#DejaVuSans-6e" transform="translate(1249.268 0)"/>
<use href="#DejaVuSans-3a" transform="translate(1312.646 0)"/>
<use href="#DejaVuSans-20" transform="translate(1346.338 0)"/>
<use href="#DejaVuSans-2d" transform="translate(1378.125 0)"/>
<use href="#DejaVuSans-31" transform="translate(1414.209 0)"/>
<use href="#DejaVuSans-35" transform="translate(1477.832 0)"/>
<use href="#DejaVuSans-32" transform="translate(1541.455 0)"/>
<use href="#DejaVuSans-2e" transform="translate(1605.078 0)"/>
<use href="#DejaVuSans-35" transform="translate(1636.865 0)"/>
<use href="#DejaVuSans-31" transform="translate(1700.488 0)"/>
<use href="#DejaVuSans-20" transform="translate(1764.111 0)"/>
<use href="#DejaVuSans-6c" transform="translate(1795.898 0)"/>
<use href="#DejaVuSans-61" transform="translate(1823.682 0)"/>
<use href="#DejaVuSans-74" transform="translate(1884.961 0)"/>
<use href="#DejaVuSans-3a" transform="translate(1924.17 0)"/>
<use href="#DejaVuSans-20" transform="translate(1957.861 0)"/>
<use href="#DejaVuSans-35" transform="translate(1989.648 0)"/>
<use href="#DejaVuSans-37" transform="translate(2053.271 0)"/>
<use href="#DejaVuSans-2e" transform="translate(2116.895 0)"/>
<use href="#DejaVuSans-37" transform="translate(2148.682 0)"/>
<use href="#DejaVuSans-33" transform="translate(2212.305 0)"/>
</g>
</g>
<g id="text_20">
<!-- Subtidal sea temperature, from fixed station -->
<g transform="translate(45.36 53.424) scale(0.16 -0.16)">
<defs>
<path id="DejaVuSans-2c" d="M 750 794
L 1409 794
L 1409 256
L 897 -744
L 494 -744
L 750 256
L 750 794
z
" transform="scale(0.016)"/>
<path id="DejaVuSans-66" d="M 2375 4863
L 2375 4384
L 1825 4384
Q 1516 4384 1395 4259
Q 1275 4134 1275 3809
L 1275 3500
L 2222 3500
L 2222 3053
L 1275 3053
L 1275 0
L 697 0
L 697 3053
L 147 3053
L 147 3500
L 697 3500
L 697 3744
Q 697 4328 969 4595
Q 1241 4863 1831 4863
L 2375 4863
z
" transform="scale(0.016)"/>
<path id="DejaVuSans-78" d="M 3513 3500
L 2247 1797
L 3578 0
L 2900 0
L 1881 1375
L 863 0
L 184 0
L 1544 1831
L 300 3500
L 978 3500
L 1906 2253
L 2834 3500
L 3513 3500
z
" transform="scale(0.016)"/>
</defs>
<use href="#DejaVuSans-53"/>
<use href="#DejaVuSans-75" transform="translate(63.477 0)"/>
<use href="#DejaVuSans-62" transform="translate(126.855 0)"/>
<use href="#DejaVuSans-74" transform="translate(190.332 0)"/>
<use href="#DejaVuSans-69" transform="translate(229.541 0)"/>
<use href="#DejaVuSans-64" transform="translate(257.324 0)"/>
<use href="#DejaVuSans-61" transform="translate(320.801 0)"/>
<use href="#DejaVuSans-6c" transform="translate(382.08 0)"/>
<use href="#DejaVuSans-20" transform="translate(409.863 0)"/>
<use href="#DejaVuSans-73" transform="translate(441.65 0)"/>
<use href="#DejaVuSans-65" transform="translate(493.75 0)"/>
<use href="#DejaVuSans-61" transform="translate(555.273 0)"/>
<use href="#DejaVuSans-20" transform="translate(616.553 0)"/>
<use href="#DejaVuSans-74" transform="translate(648.34 0)"/>
<use href="#DejaVuSans-65" transform="translate(687.549 0)"/>
<use href="#DejaVuSans-6d" transform="translate(749.072 0)"/>
<use href="#DejaVuSans-70" transform="translate(846.484 0)"/>
<use href="#DejaVuSans-65" transform="translate(909.961 0)"/>
<use href="#DejaVuSans-72" transform="translate(971.484 0)"/>
<use href="#DejaVuSans-61" transform="translate(1012.598 0)"/>
<use href="#DejaVuSans-74" transform="translate(1073.877 0)"/>
<use href="#DejaVuSans-75" transform="translate(1113.086 0)"/>
<use href="#DejaVuSans-72" transform="translate(1176.465 0)"/>
<use href="#DejaVuSans-65" transform="translate(1215.328 0)"/>
<use href="#DejaVuSans-2c" transform="translate(1276.852 0)"/>
<use href="#DejaVuSans-20" transform="translate(1308.639 0)"/>
<use href="#DejaVuSans-66" transform="translate(1340.426 0)"/>
<use href="#DejaVuSans-72" transform="translate(1375.631 0)"/>
<use href="#DejaVuSans-6f" transform="translate(1414.494 0)"/>
<use href="#DejaVuSans-6d" transform="translate(1475.676 0)"/>
<use href="#DejaVuSans-20" transform="translate(1573.088 0)"/>
<use href="#DejaVuSans-66" transform="translate(1604.875 0)"/>
<use href="#DejaVuSans-69" transform="translate(1640.08 0)"/>
<use href="#DejaVuSans-78" transform="translate(1667.863 0)"/>
<use href="#DejaVuSans-65" transform="translate(1723.918 0)"/>
<use href="#DejaVuSans-64" transform="translate(1785.441 0)"/>
<use href="#DejaVuSans-20" transform="translate(1848.918 0)"/>
<use href="#DejaVuSans-73" transform="translate(1880.705 0)"/>
<use href="#DejaVuSans-74" transform="translate(1932.805 0)"/>
<use href="#DejaVuSans-61" transform="translate(1972.014 0)"/>
<use href="#DejaVuSans-74" transform="translate(2033.293 0)"/>
<use href="#DejaVuSans-69" transform="translate(2072.502 0)"/>
<use href="#DejaVuSans-6f" transform="translate(2100.285 0)"/>
<use href="#DejaVuSans-6e" transform="translate(2161.467 0)"/>
</g>
</g>
</g>
<defs>
<clipPath id="p68b2241940">
<rect x="45.9" y="57.888" width="1031.436" height="278.568"/>
</clipPath>
</defs>
</svg>

<svg width="1500" height="500" viewBox="0 0 1500 500" style="position:absolute;left:0;top:0" fill="none" stroke="#000" stroke-width="1.0" shape-rendering="crispEdges"><path d="M63.5 80.5H1496.5V467.5H63.5Z" stroke-linecap="square"/><path d="M124.5 467.5v5.5M336.5 467.5v5.5M555.5 467.5v5.5M774.5 467.5v5.5M997.5 467.5v5.5M1216.5 467.5v5.5M1435.5 467.5v5.5M63.5 420.5h-5.5M63.5 367.5h-5.5M63.5 315.5h-5.5M63.5 262.5h-5.5M63.5 210.5h-5.5M63.5 157.5h-5.5M63.5 105.5h-5.5"/></svg>
</body></html>
